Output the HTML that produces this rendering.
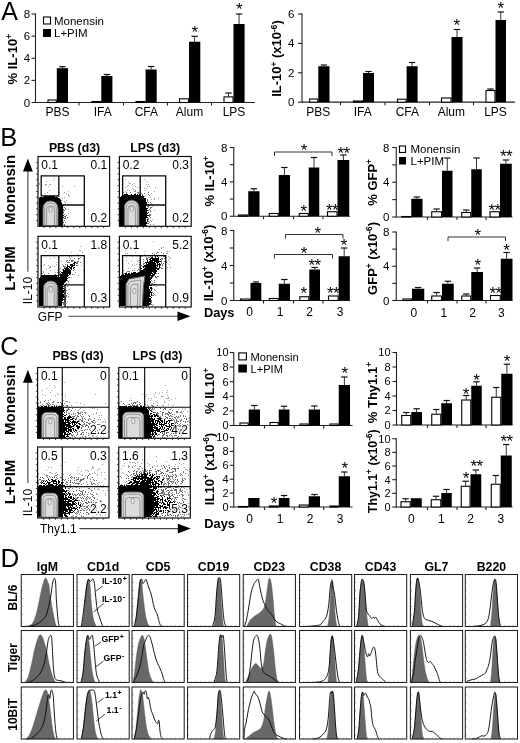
<!DOCTYPE html>
<html><head><meta charset="utf-8"><style>
html,body{margin:0;padding:0;background:#fff;}
svg{display:block;font-family:"Liberation Sans", sans-serif;filter:grayscale(1);}
</style></head><body>
<svg width="520" height="743" viewBox="0 0 520 743">
<rect width="520" height="743" fill="#fff"/>
<text x="1.3" y="20" font-size="25" fill="#000">A</text>
<text x="0.3" y="145.8" font-size="25.5" fill="#000">B</text>
<text x="0.3" y="354.8" font-size="25" fill="#000">C</text>
<text x="0.6" y="566.8" font-size="26" fill="#000">D</text>
<path d="M35.5 13.5L35.5 103" stroke="#222" stroke-width="1.1" fill="none"/>
<path d="M31.5 102.5L35.5 102.5" stroke="#222" stroke-width="1.1" fill="none"/>
<path d="M31.5 80.38L35.5 80.38" stroke="#222" stroke-width="1.1" fill="none"/>
<path d="M31.5 58.25L35.5 58.25" stroke="#222" stroke-width="1.1" fill="none"/>
<path d="M31.5 36.12L35.5 36.12" stroke="#222" stroke-width="1.1" fill="none"/>
<path d="M31.5 14L35.5 14" stroke="#222" stroke-width="1.1" fill="none"/>
<text x="30.2" y="106.57" font-size="11.5" text-anchor="end" fill="#000">0</text>
<text x="30.2" y="84.45" font-size="11.5" text-anchor="end" fill="#000">2</text>
<text x="30.2" y="62.32" font-size="11.5" text-anchor="end" fill="#000">4</text>
<text x="30.2" y="40.2" font-size="11.5" text-anchor="end" fill="#000">6</text>
<text x="30.2" y="18.07" font-size="11.5" text-anchor="end" fill="#000">8</text>
<path d="M35.5 102.5L255 102.5" stroke="#222" stroke-width="1.2" fill="none"/>
<path d="M79 102.5L79 105.5" stroke="#222" stroke-width="1.1" fill="none"/>
<path d="M123.5 102.5L123.5 105.5" stroke="#222" stroke-width="1.1" fill="none"/>
<path d="M167.5 102.5L167.5 105.5" stroke="#222" stroke-width="1.1" fill="none"/>
<path d="M211.5 102.5L211.5 105.5" stroke="#222" stroke-width="1.1" fill="none"/>
<rect x="48" y="100" width="8.3" height="2.5" fill="#fff" stroke="#000" stroke-width="1.1"/>
<path d="M62.4 68.2L62.4 66.7" stroke="#333" stroke-width="1" fill="none"/>
<path d="M59.2 66.7L65.6 66.7" stroke="#111" stroke-width="1.2" fill="none"/>
<rect x="56.8" y="68.2" width="11.2" height="34.3" fill="#000"/>
<rect x="92" y="101.5" width="8.8" height="1" fill="#fff" stroke="#000" stroke-width="1.1"/>
<path d="M106.85 76L106.85 74.5" stroke="#333" stroke-width="1" fill="none"/>
<path d="M103.65 74.5L110.05 74.5" stroke="#111" stroke-width="1.2" fill="none"/>
<rect x="101.3" y="76" width="11.1" height="26.5" fill="#000"/>
<rect x="136" y="101.5" width="9.1" height="1" fill="#fff" stroke="#000" stroke-width="1.1"/>
<path d="M151.15 69.5L151.15 66.5" stroke="#333" stroke-width="1" fill="none"/>
<path d="M147.95 66.5L154.35 66.5" stroke="#111" stroke-width="1.2" fill="none"/>
<rect x="145.6" y="69.5" width="11.1" height="33" fill="#000"/>
<rect x="179.5" y="98.8" width="9" height="3.7" fill="#fff" stroke="#000" stroke-width="1.1"/>
<path d="M194.65 41.7L194.65 36.3" stroke="#333" stroke-width="1" fill="none"/>
<path d="M191.45 36.3L197.85 36.3" stroke="#111" stroke-width="1.2" fill="none"/>
<rect x="189" y="41.7" width="11.3" height="60.8" fill="#000"/>
<path d="M228.5 96.4L228.5 93" stroke="#333" stroke-width="1" fill="none"/>
<path d="M225.3 93L231.7 93" stroke="#111" stroke-width="1.2" fill="none"/>
<rect x="224" y="96.9" width="9" height="5.6" fill="#fff" stroke="#000" stroke-width="1.1"/>
<path d="M239.05 24L239.05 14" stroke="#333" stroke-width="1" fill="none"/>
<path d="M235.85 14L242.25 14" stroke="#111" stroke-width="1.2" fill="none"/>
<rect x="233.5" y="24" width="11.1" height="78.5" fill="#000"/>
<text x="194.5" y="38.21" font-size="17" text-anchor="middle" fill="#000" letter-spacing="-0.5">*</text>
<text x="239" y="15.21" font-size="17" text-anchor="middle" fill="#000" letter-spacing="-0.5">*</text>
<text x="57.4" y="115.6" font-size="12" text-anchor="middle" fill="#000">PBS</text>
<text x="102.8" y="115.6" font-size="12" text-anchor="middle" fill="#000">IFA</text>
<text x="146.3" y="115.6" font-size="12" text-anchor="middle" fill="#000">CFA</text>
<text x="189.5" y="115.6" font-size="12" text-anchor="middle" fill="#000">Alum</text>
<text x="234" y="115.6" font-size="12" text-anchor="middle" fill="#000">LPS</text>
<text transform="translate(17 59.2) rotate(-90)" font-size="13" font-weight="bold" text-anchor="middle" fill="#000"><tspan dy="0">% IL-10</tspan><tspan dy="-4.6" font-size="8.3">+</tspan></text>
<rect x="43.5" y="17" width="7" height="7" fill="#fff" stroke="#000" stroke-width="1.1"/>
<rect x="43" y="29" width="8" height="8" fill="#000"/>
<text x="54" y="24.5" font-size="11.5" fill="#000">Monensin</text>
<text x="54" y="37" font-size="11.5" fill="#000">L+PIM</text>
<path d="M302 13.5L302 102.7" stroke="#222" stroke-width="1.1" fill="none"/>
<path d="M298 102.2L302 102.2" stroke="#222" stroke-width="1.1" fill="none"/>
<path d="M298 72.8L302 72.8" stroke="#222" stroke-width="1.1" fill="none"/>
<path d="M298 43.4L302 43.4" stroke="#222" stroke-width="1.1" fill="none"/>
<path d="M298 14L302 14" stroke="#222" stroke-width="1.1" fill="none"/>
<text x="294.3" y="106.27" font-size="11.5" text-anchor="end" fill="#000">0</text>
<text x="294.3" y="76.87" font-size="11.5" text-anchor="end" fill="#000">2</text>
<text x="294.3" y="47.47" font-size="11.5" text-anchor="end" fill="#000">4</text>
<text x="294.3" y="18.07" font-size="11.5" text-anchor="end" fill="#000">6</text>
<path d="M302 102.2L515 102.2" stroke="#222" stroke-width="1.2" fill="none"/>
<path d="M340.5 102.2L340.5 105.2" stroke="#222" stroke-width="1.1" fill="none"/>
<path d="M385 102.2L385 105.2" stroke="#222" stroke-width="1.1" fill="none"/>
<path d="M429.5 102.2L429.5 105.2" stroke="#222" stroke-width="1.1" fill="none"/>
<path d="M473.5 102.2L473.5 105.2" stroke="#222" stroke-width="1.1" fill="none"/>
<rect x="309.7" y="99" width="8.1" height="3.2" fill="#fff" stroke="#000" stroke-width="1.1"/>
<path d="M323.9 66.25L323.9 65" stroke="#333" stroke-width="1" fill="none"/>
<path d="M320.7 65L327.1 65" stroke="#111" stroke-width="1.2" fill="none"/>
<rect x="318.3" y="66.25" width="11.2" height="35.95" fill="#000"/>
<rect x="353.5" y="101" width="9" height="1.2" fill="#fff" stroke="#000" stroke-width="1.1"/>
<path d="M368.5 73L368.5 71.5" stroke="#333" stroke-width="1" fill="none"/>
<path d="M365.3 71.5L371.7 71.5" stroke="#111" stroke-width="1.2" fill="none"/>
<rect x="363" y="73" width="11" height="29.2" fill="#000"/>
<rect x="397.5" y="99.25" width="8.6" height="2.95" fill="#fff" stroke="#000" stroke-width="1.1"/>
<path d="M412.1 66.25L412.1 62.5" stroke="#333" stroke-width="1" fill="none"/>
<path d="M408.9 62.5L415.3 62.5" stroke="#111" stroke-width="1.2" fill="none"/>
<rect x="406.6" y="66.25" width="11" height="35.95" fill="#000"/>
<rect x="441.5" y="98" width="9.5" height="4.2" fill="#fff" stroke="#000" stroke-width="1.1"/>
<path d="M457 37L457 29.5" stroke="#333" stroke-width="1" fill="none"/>
<path d="M453.8 29.5L460.2 29.5" stroke="#111" stroke-width="1.2" fill="none"/>
<rect x="451.5" y="37" width="11" height="65.2" fill="#000"/>
<path d="M490.5 90L490.5 89" stroke="#333" stroke-width="1" fill="none"/>
<path d="M487.3 89L493.7 89" stroke="#111" stroke-width="1.2" fill="none"/>
<rect x="486" y="90.5" width="9" height="11.7" fill="#fff" stroke="#000" stroke-width="1.1"/>
<path d="M500.75 20L500.75 12" stroke="#333" stroke-width="1" fill="none"/>
<path d="M497.55 12L503.95 12" stroke="#111" stroke-width="1.2" fill="none"/>
<rect x="495.5" y="20" width="10.5" height="82.2" fill="#000"/>
<text x="456.5" y="31.21" font-size="17" text-anchor="middle" fill="#000" letter-spacing="-0.5">*</text>
<text x="500.5" y="14.21" font-size="17" text-anchor="middle" fill="#000" letter-spacing="-0.5">*</text>
<text x="318.3" y="115.5" font-size="12" text-anchor="middle" fill="#000">PBS</text>
<text x="362.8" y="115.5" font-size="12" text-anchor="middle" fill="#000">IFA</text>
<text x="407.3" y="115.5" font-size="12" text-anchor="middle" fill="#000">CFA</text>
<text x="451.3" y="115.5" font-size="12" text-anchor="middle" fill="#000">Alum</text>
<text x="495.5" y="115.5" font-size="12" text-anchor="middle" fill="#000">LPS</text>
<text transform="translate(281.1 58.5) rotate(-90)" font-size="13" font-weight="bold" text-anchor="middle" fill="#000"><tspan dy="0">IL-10</tspan><tspan dy="-4.6" font-size="8.3">+</tspan><tspan dy="4.6"> (x10</tspan><tspan dy="-4.6" font-size="8.3">-6</tspan><tspan dy="4.6">)</tspan></text>
<path d="M233.75 147L233.75 216.75" stroke="#222" stroke-width="1.1" fill="none"/>
<path d="M229.75 216.25L233.75 216.25" stroke="#222" stroke-width="1.1" fill="none"/>
<path d="M229.75 199.06L233.75 199.06" stroke="#222" stroke-width="1.1" fill="none"/>
<path d="M229.75 181.88L233.75 181.88" stroke="#222" stroke-width="1.1" fill="none"/>
<path d="M229.75 164.69L233.75 164.69" stroke="#222" stroke-width="1.1" fill="none"/>
<path d="M229.75 147.5L233.75 147.5" stroke="#222" stroke-width="1.1" fill="none"/>
<text x="227.3" y="220.32" font-size="11.5" text-anchor="end" fill="#000">0</text>
<text x="227.3" y="185.95" font-size="11.5" text-anchor="end" fill="#000">4</text>
<text x="227.3" y="151.57" font-size="11.5" text-anchor="end" fill="#000">8</text>
<path d="M233.75 216.25L350 216.25" stroke="#222" stroke-width="1.2" fill="none"/>
<path d="M263.5 216.25L263.5 219.25" stroke="#222" stroke-width="1.1" fill="none"/>
<path d="M293.5 216.25L293.5 219.25" stroke="#222" stroke-width="1.1" fill="none"/>
<path d="M323 216.25L323 219.25" stroke="#222" stroke-width="1.1" fill="none"/>
<rect x="238.5" y="215" width="9.25" height="1.25" fill="#fff" stroke="#000" stroke-width="1.1"/>
<path d="M253.88 191.25L253.88 188.75" stroke="#333" stroke-width="1" fill="none"/>
<path d="M250.68 188.75L257.07 188.75" stroke="#111" stroke-width="1.2" fill="none"/>
<rect x="248.25" y="191.25" width="11.25" height="25" fill="#000"/>
<rect x="269.25" y="213.5" width="9" height="2.75" fill="#fff" stroke="#000" stroke-width="1.1"/>
<path d="M284.38 175L284.38 167.5" stroke="#333" stroke-width="1" fill="none"/>
<path d="M281.18 167.5L287.57 167.5" stroke="#111" stroke-width="1.2" fill="none"/>
<rect x="278.75" y="175" width="11.25" height="41.25" fill="#000"/>
<rect x="299.25" y="213.5" width="9" height="2.75" fill="#fff" stroke="#000" stroke-width="1.1"/>
<path d="M314 167.5L314 157.5" stroke="#333" stroke-width="1" fill="none"/>
<path d="M310.8 157.5L317.2 157.5" stroke="#111" stroke-width="1.2" fill="none"/>
<rect x="308.75" y="167.5" width="10.5" height="48.75" fill="#000"/>
<rect x="327.5" y="211.75" width="9.5" height="4.5" fill="#fff" stroke="#000" stroke-width="1.1"/>
<path d="M343.38 160L343.38 155" stroke="#333" stroke-width="1" fill="none"/>
<path d="M340.18 155L346.57 155" stroke="#111" stroke-width="1.2" fill="none"/>
<rect x="337.5" y="160" width="11.75" height="56.25" fill="#000"/>
<text x="303.5" y="216.71" font-size="17" text-anchor="middle" fill="#000" letter-spacing="-0.5">*</text>
<text x="332" y="215.71" font-size="17" text-anchor="middle" fill="#000" letter-spacing="-0.5">**</text>
<text x="343.5" y="158.71" font-size="17" text-anchor="middle" fill="#000" letter-spacing="-0.5">**</text>
<path d="M274.5 156V152H332V156" stroke="#333" stroke-width="1" fill="none"/>
<text x="303.75" y="155.71" font-size="17" text-anchor="middle" fill="#000" letter-spacing="-0.5">*</text>
<text transform="translate(213.5 181.2) rotate(-90)" font-size="13" font-weight="bold" text-anchor="middle" fill="#000"><tspan dy="0">% IL-10</tspan><tspan dy="-4.6" font-size="8.3">+</tspan></text>
<path d="M396.25 147L396.25 217.5" stroke="#222" stroke-width="1.1" fill="none"/>
<path d="M392.25 217L396.25 217" stroke="#222" stroke-width="1.1" fill="none"/>
<path d="M392.25 199.62L396.25 199.62" stroke="#222" stroke-width="1.1" fill="none"/>
<path d="M392.25 182.25L396.25 182.25" stroke="#222" stroke-width="1.1" fill="none"/>
<path d="M392.25 164.88L396.25 164.88" stroke="#222" stroke-width="1.1" fill="none"/>
<path d="M392.25 147.5L396.25 147.5" stroke="#222" stroke-width="1.1" fill="none"/>
<text x="389.5" y="221.07" font-size="11.5" text-anchor="end" fill="#000">0</text>
<text x="389.5" y="186.32" font-size="11.5" text-anchor="end" fill="#000">4</text>
<text x="389.5" y="151.57" font-size="11.5" text-anchor="end" fill="#000">8</text>
<path d="M396.25 217L512.5 217" stroke="#222" stroke-width="1.2" fill="none"/>
<path d="M427.5 217L427.5 220" stroke="#222" stroke-width="1.1" fill="none"/>
<path d="M457 217L457 220" stroke="#222" stroke-width="1.1" fill="none"/>
<path d="M486 217L486 220" stroke="#222" stroke-width="1.1" fill="none"/>
<rect x="401.75" y="216.5" width="9" height="0.5" fill="#fff" stroke="#000" stroke-width="1.1"/>
<path d="M416.88 198.75L416.88 197" stroke="#333" stroke-width="1" fill="none"/>
<path d="M413.68 197L420.07 197" stroke="#111" stroke-width="1.2" fill="none"/>
<rect x="411.25" y="198.75" width="11.25" height="18.25" fill="#000"/>
<path d="M436.62 211.25L436.62 209" stroke="#333" stroke-width="1" fill="none"/>
<path d="M433.43 209L439.82 209" stroke="#111" stroke-width="1.2" fill="none"/>
<rect x="431.75" y="211.75" width="9.75" height="5.25" fill="#fff" stroke="#000" stroke-width="1.1"/>
<path d="M447.25 170.75L447.25 158" stroke="#333" stroke-width="1" fill="none"/>
<path d="M444.05 158L450.45 158" stroke="#111" stroke-width="1.2" fill="none"/>
<rect x="442" y="170.75" width="10.5" height="46.25" fill="#000"/>
<path d="M466.25 212L466.25 210" stroke="#333" stroke-width="1" fill="none"/>
<path d="M463.05 210L469.45 210" stroke="#111" stroke-width="1.2" fill="none"/>
<rect x="461.75" y="212.5" width="9" height="4.5" fill="#fff" stroke="#000" stroke-width="1.1"/>
<path d="M476.5 169.25L476.5 158" stroke="#333" stroke-width="1" fill="none"/>
<path d="M473.3 158L479.7 158" stroke="#111" stroke-width="1.2" fill="none"/>
<rect x="471.25" y="169.25" width="10.5" height="47.75" fill="#000"/>
<rect x="490" y="211.75" width="9.5" height="5.25" fill="#fff" stroke="#000" stroke-width="1.1"/>
<path d="M505.88 163.75L505.88 160" stroke="#333" stroke-width="1" fill="none"/>
<path d="M502.68 160L509.07 160" stroke="#111" stroke-width="1.2" fill="none"/>
<rect x="500" y="163.75" width="11.75" height="53.25" fill="#000"/>
<text x="494.5" y="216.21" font-size="17" text-anchor="middle" fill="#000" letter-spacing="-0.5">**</text>
<text x="506" y="162.46" font-size="17" text-anchor="middle" fill="#000" letter-spacing="-0.5">**</text>
<text transform="translate(377 182.4) rotate(-90)" font-size="13" font-weight="bold" text-anchor="middle" fill="#000"><tspan dy="0">% GFP</tspan><tspan dy="-4.6" font-size="8.3">+</tspan></text>
<rect x="399.5" y="146" width="6" height="6.5" fill="#fff" stroke="#000" stroke-width="1.1"/>
<rect x="399" y="157" width="7" height="7.5" fill="#000"/>
<text x="410.5" y="153.3" font-size="11.5" fill="#000">Monensin</text>
<text x="410.5" y="164.8" font-size="11.5" fill="#000">L+PIM</text>
<path d="M233.75 230L233.75 301" stroke="#222" stroke-width="1.1" fill="none"/>
<path d="M229.75 300.5L233.75 300.5" stroke="#222" stroke-width="1.1" fill="none"/>
<path d="M229.75 283L233.75 283" stroke="#222" stroke-width="1.1" fill="none"/>
<path d="M229.75 265.5L233.75 265.5" stroke="#222" stroke-width="1.1" fill="none"/>
<path d="M229.75 248L233.75 248" stroke="#222" stroke-width="1.1" fill="none"/>
<path d="M229.75 230.5L233.75 230.5" stroke="#222" stroke-width="1.1" fill="none"/>
<text x="227.3" y="304.57" font-size="11.5" text-anchor="end" fill="#000">0</text>
<text x="227.3" y="269.57" font-size="11.5" text-anchor="end" fill="#000">4</text>
<text x="227.3" y="234.57" font-size="11.5" text-anchor="end" fill="#000">8</text>
<path d="M233.75 300.5L350 300.5" stroke="#222" stroke-width="1.2" fill="none"/>
<path d="M263.5 300.5L263.5 303.5" stroke="#222" stroke-width="1.1" fill="none"/>
<path d="M293.5 300.5L293.5 303.5" stroke="#222" stroke-width="1.1" fill="none"/>
<path d="M323 300.5L323 303.5" stroke="#222" stroke-width="1.1" fill="none"/>
<rect x="240.5" y="299" width="9.5" height="1.5" fill="#fff" stroke="#000" stroke-width="1.1"/>
<path d="M255.9 283L255.9 282" stroke="#333" stroke-width="1" fill="none"/>
<path d="M252.7 282L259.1 282" stroke="#111" stroke-width="1.2" fill="none"/>
<rect x="250.5" y="283" width="10.8" height="17.5" fill="#000"/>
<rect x="269.25" y="298.5" width="9" height="2" fill="#fff" stroke="#000" stroke-width="1.1"/>
<path d="M284.38 283.75L284.38 279.5" stroke="#333" stroke-width="1" fill="none"/>
<path d="M281.18 279.5L287.57 279.5" stroke="#111" stroke-width="1.2" fill="none"/>
<rect x="278.75" y="283.75" width="11.25" height="16.75" fill="#000"/>
<rect x="299.8" y="296.75" width="9" height="3.75" fill="#fff" stroke="#000" stroke-width="1.1"/>
<path d="M314.65 269.5L314.65 267.5" stroke="#333" stroke-width="1" fill="none"/>
<path d="M311.45 267.5L317.85 267.5" stroke="#111" stroke-width="1.2" fill="none"/>
<rect x="309.3" y="269.5" width="10.7" height="31" fill="#000"/>
<rect x="328.5" y="296" width="9.6" height="4.5" fill="#fff" stroke="#000" stroke-width="1.1"/>
<path d="M344.2 256.25L344.2 248" stroke="#333" stroke-width="1" fill="none"/>
<path d="M341 248L347.4 248" stroke="#111" stroke-width="1.2" fill="none"/>
<rect x="338.6" y="256.25" width="11.2" height="44.25" fill="#000"/>
<text x="303.5" y="298.71" font-size="17" text-anchor="middle" fill="#000" letter-spacing="-0.5">*</text>
<text x="314.5" y="271.21" font-size="17" text-anchor="middle" fill="#000" letter-spacing="-0.5">**</text>
<text x="333" y="298.71" font-size="17" text-anchor="middle" fill="#000" letter-spacing="-0.5">**</text>
<text x="343.75" y="250.71" font-size="17" text-anchor="middle" fill="#000" letter-spacing="-0.5">*</text>
<path d="M285.5 238.5V234.5H343V238.5" stroke="#333" stroke-width="1" fill="none"/>
<text x="317.5" y="238.71" font-size="17" text-anchor="middle" fill="#000" letter-spacing="-0.5">*</text>
<path d="M274.5 258.5V254.5H332.5V258.5" stroke="#333" stroke-width="1" fill="none"/>
<text x="303.75" y="258.71" font-size="17" text-anchor="middle" fill="#000" letter-spacing="-0.5">*</text>
<text transform="translate(213 263) rotate(-90)" font-size="13" font-weight="bold" text-anchor="middle" fill="#000"><tspan dy="0">IL-10</tspan><tspan dy="-4.6" font-size="8.3">+</tspan><tspan dy="4.6"> (x10</tspan><tspan dy="-4.6" font-size="8.3">-6</tspan><tspan dy="4.6">)</tspan></text>
<text x="203.9" y="316.8" font-size="12.8" font-weight="bold" fill="#000">Days</text>
<text x="249.5" y="316" font-size="12" text-anchor="middle" fill="#000">0</text>
<text x="280" y="316" font-size="12" text-anchor="middle" fill="#000">1</text>
<text x="309.5" y="316" font-size="12" text-anchor="middle" fill="#000">2</text>
<text x="340" y="316" font-size="12" text-anchor="middle" fill="#000">3</text>
<path d="M396.25 231.5L396.25 301" stroke="#222" stroke-width="1.1" fill="none"/>
<path d="M392.25 300.5L396.25 300.5" stroke="#222" stroke-width="1.1" fill="none"/>
<path d="M392.25 283.38L396.25 283.38" stroke="#222" stroke-width="1.1" fill="none"/>
<path d="M392.25 266.25L396.25 266.25" stroke="#222" stroke-width="1.1" fill="none"/>
<path d="M392.25 249.12L396.25 249.12" stroke="#222" stroke-width="1.1" fill="none"/>
<path d="M392.25 232L396.25 232" stroke="#222" stroke-width="1.1" fill="none"/>
<text x="389.5" y="304.57" font-size="11.5" text-anchor="end" fill="#000">0</text>
<text x="389.5" y="270.32" font-size="11.5" text-anchor="end" fill="#000">4</text>
<text x="389.5" y="236.07" font-size="11.5" text-anchor="end" fill="#000">8</text>
<path d="M396.25 300.5L512.5 300.5" stroke="#222" stroke-width="1.2" fill="none"/>
<path d="M427.5 300.5L427.5 303.5" stroke="#222" stroke-width="1.1" fill="none"/>
<path d="M457 300.5L457 303.5" stroke="#222" stroke-width="1.1" fill="none"/>
<path d="M486 300.5L486 303.5" stroke="#222" stroke-width="1.1" fill="none"/>
<rect x="403" y="299" width="8.5" height="1.5" fill="#fff" stroke="#000" stroke-width="1.1"/>
<path d="M418.12 288.75L418.12 287.5" stroke="#333" stroke-width="1" fill="none"/>
<path d="M414.93 287.5L421.32 287.5" stroke="#111" stroke-width="1.2" fill="none"/>
<rect x="412" y="288.75" width="12.25" height="11.75" fill="#000"/>
<path d="M436.62 295.5L436.62 292.5" stroke="#333" stroke-width="1" fill="none"/>
<path d="M433.43 292.5L439.82 292.5" stroke="#111" stroke-width="1.2" fill="none"/>
<rect x="431.75" y="296" width="9.75" height="4.5" fill="#fff" stroke="#000" stroke-width="1.1"/>
<path d="M447.88 283.75L447.88 281.25" stroke="#333" stroke-width="1" fill="none"/>
<path d="M444.68 281.25L451.07 281.25" stroke="#111" stroke-width="1.2" fill="none"/>
<rect x="442" y="283.75" width="11.75" height="16.75" fill="#000"/>
<path d="M466.25 295.5L466.25 294" stroke="#333" stroke-width="1" fill="none"/>
<path d="M463.05 294L469.45 294" stroke="#111" stroke-width="1.2" fill="none"/>
<rect x="461.75" y="296" width="9" height="4.5" fill="#fff" stroke="#000" stroke-width="1.1"/>
<path d="M477.12 272L477.12 268" stroke="#333" stroke-width="1" fill="none"/>
<path d="M473.93 268L480.32 268" stroke="#111" stroke-width="1.2" fill="none"/>
<rect x="471.25" y="272" width="11.75" height="28.5" fill="#000"/>
<rect x="490.5" y="295.5" width="9.75" height="5" fill="#fff" stroke="#000" stroke-width="1.1"/>
<path d="M506.62 258.75L506.62 252.5" stroke="#333" stroke-width="1" fill="none"/>
<path d="M503.43 252.5L509.82 252.5" stroke="#111" stroke-width="1.2" fill="none"/>
<rect x="500.75" y="258.75" width="11.75" height="41.75" fill="#000"/>
<text x="477.5" y="271.21" font-size="17" text-anchor="middle" fill="#000" letter-spacing="-0.5">*</text>
<text x="495.5" y="298.71" font-size="17" text-anchor="middle" fill="#000" letter-spacing="-0.5">**</text>
<text x="506.25" y="255.71" font-size="17" text-anchor="middle" fill="#000" letter-spacing="-0.5">*</text>
<path d="M448 241V237H505.5V241" stroke="#333" stroke-width="1" fill="none"/>
<text x="477.5" y="240.71" font-size="17" text-anchor="middle" fill="#000" letter-spacing="-0.5">*</text>
<text transform="translate(377 258.4) rotate(-90)" font-size="13" font-weight="bold" text-anchor="middle" fill="#000"><tspan dy="0">GFP</tspan><tspan dy="-4.6" font-size="8.3">+</tspan><tspan dy="4.6"> (x10</tspan><tspan dy="-4.6" font-size="8.3">-6</tspan><tspan dy="4.6">)</tspan></text>
<text x="413.75" y="316.5" font-size="12" text-anchor="middle" fill="#000">0</text>
<text x="443.75" y="316.5" font-size="12" text-anchor="middle" fill="#000">1</text>
<text x="472.5" y="316.5" font-size="12" text-anchor="middle" fill="#000">2</text>
<text x="501.25" y="316.5" font-size="12" text-anchor="middle" fill="#000">3</text>
<path d="M233.75 352L233.75 426" stroke="#222" stroke-width="1.1" fill="none"/>
<path d="M229.75 425.5L233.75 425.5" stroke="#222" stroke-width="1.1" fill="none"/>
<path d="M229.75 410.9L233.75 410.9" stroke="#222" stroke-width="1.1" fill="none"/>
<path d="M229.75 396.3L233.75 396.3" stroke="#222" stroke-width="1.1" fill="none"/>
<path d="M229.75 381.7L233.75 381.7" stroke="#222" stroke-width="1.1" fill="none"/>
<path d="M229.75 367.1L233.75 367.1" stroke="#222" stroke-width="1.1" fill="none"/>
<path d="M229.75 352.5L233.75 352.5" stroke="#222" stroke-width="1.1" fill="none"/>
<text x="228.6" y="429.39" font-size="11" text-anchor="end" fill="#000">0</text>
<text x="228.6" y="414.79" font-size="11" text-anchor="end" fill="#000">2</text>
<text x="228.6" y="400.19" font-size="11" text-anchor="end" fill="#000">4</text>
<text x="228.6" y="385.59" font-size="11" text-anchor="end" fill="#000">6</text>
<text x="228.6" y="370.99" font-size="11" text-anchor="end" fill="#000">8</text>
<text x="228.6" y="356.39" font-size="11" text-anchor="end" fill="#000">10</text>
<path d="M233.75 425.5L352.5 425.5" stroke="#222" stroke-width="1.2" fill="none"/>
<path d="M264.5 425.5L264.5 428.5" stroke="#222" stroke-width="1.1" fill="none"/>
<path d="M294.25 425.5L294.25 428.5" stroke="#222" stroke-width="1.1" fill="none"/>
<path d="M323.75 425.5L323.75 428.5" stroke="#222" stroke-width="1.1" fill="none"/>
<rect x="240" y="423" width="8.25" height="2.5" fill="#fff" stroke="#000" stroke-width="1.1"/>
<path d="M254.38 409.5L254.38 405.5" stroke="#333" stroke-width="1" fill="none"/>
<path d="M251.18 405.5L257.57 405.5" stroke="#111" stroke-width="1.2" fill="none"/>
<rect x="248.75" y="409.5" width="11.25" height="16" fill="#000"/>
<rect x="270" y="422.5" width="8.25" height="3" fill="#fff" stroke="#000" stroke-width="1.1"/>
<path d="M284.12 409.5L284.12 406.25" stroke="#333" stroke-width="1" fill="none"/>
<path d="M280.93 406.25L287.32 406.25" stroke="#111" stroke-width="1.2" fill="none"/>
<rect x="278.75" y="409.5" width="10.75" height="16" fill="#000"/>
<rect x="300" y="424" width="8.25" height="1.5" fill="#fff" stroke="#000" stroke-width="1.1"/>
<path d="M314.38 409.5L314.38 406" stroke="#333" stroke-width="1" fill="none"/>
<path d="M311.18 406L317.57 406" stroke="#111" stroke-width="1.2" fill="none"/>
<rect x="308.75" y="409.5" width="11.25" height="16" fill="#000"/>
<rect x="330" y="424" width="8.25" height="1.5" fill="#fff" stroke="#000" stroke-width="1.1"/>
<path d="M344.38 385L344.38 377" stroke="#333" stroke-width="1" fill="none"/>
<path d="M341.18 377L347.57 377" stroke="#111" stroke-width="1.2" fill="none"/>
<rect x="338.75" y="385" width="11.25" height="40.5" fill="#000"/>
<text x="344.5" y="378.71" font-size="17" text-anchor="middle" fill="#000" letter-spacing="-0.5">*</text>
<text transform="translate(213.5 390.9) rotate(-90)" font-size="13" font-weight="bold" text-anchor="middle" fill="#000"><tspan dy="0">% IL10</tspan><tspan dy="-4.6" font-size="8.3">+</tspan></text>
<rect x="238.8" y="352.9" width="7.6" height="7" fill="#fff" stroke="#000" stroke-width="1.1"/>
<rect x="238.3" y="364.5" width="8.6" height="8" fill="#000"/>
<text x="250.5" y="360.8" font-size="11.1" fill="#000">Monensin</text>
<text x="250.5" y="372.8" font-size="11.1" fill="#000">L+PIM</text>
<path d="M396.5 352L396.5 425.5" stroke="#222" stroke-width="1.1" fill="none"/>
<path d="M392.5 425L396.5 425" stroke="#222" stroke-width="1.1" fill="none"/>
<path d="M392.5 410.5L396.5 410.5" stroke="#222" stroke-width="1.1" fill="none"/>
<path d="M392.5 396L396.5 396" stroke="#222" stroke-width="1.1" fill="none"/>
<path d="M392.5 381.5L396.5 381.5" stroke="#222" stroke-width="1.1" fill="none"/>
<path d="M392.5 367L396.5 367" stroke="#222" stroke-width="1.1" fill="none"/>
<path d="M392.5 352.5L396.5 352.5" stroke="#222" stroke-width="1.1" fill="none"/>
<text x="390.6" y="428.89" font-size="11" text-anchor="end" fill="#000">0</text>
<text x="390.6" y="414.39" font-size="11" text-anchor="end" fill="#000">2</text>
<text x="390.6" y="399.89" font-size="11" text-anchor="end" fill="#000">4</text>
<text x="390.6" y="385.39" font-size="11" text-anchor="end" fill="#000">6</text>
<text x="390.6" y="370.89" font-size="11" text-anchor="end" fill="#000">8</text>
<text x="390.6" y="356.39" font-size="11" text-anchor="end" fill="#000">10</text>
<path d="M396.5 425L512.5 425" stroke="#222" stroke-width="1.2" fill="none"/>
<path d="M427.5 425L427.5 428" stroke="#222" stroke-width="1.1" fill="none"/>
<path d="M457 425L457 428" stroke="#222" stroke-width="1.1" fill="none"/>
<path d="M486 425L486 428" stroke="#222" stroke-width="1.1" fill="none"/>
<path d="M406.25 415L406.25 412.5" stroke="#333" stroke-width="1" fill="none"/>
<path d="M403.05 412.5L409.45 412.5" stroke="#111" stroke-width="1.2" fill="none"/>
<rect x="401.75" y="415.5" width="9" height="9.5" fill="#fff" stroke="#000" stroke-width="1.1"/>
<path d="M416.62 412L416.62 408.75" stroke="#333" stroke-width="1" fill="none"/>
<path d="M413.43 408.75L419.82 408.75" stroke="#111" stroke-width="1.2" fill="none"/>
<rect x="411.25" y="412" width="10.75" height="13" fill="#000"/>
<path d="M436.25 413.75L436.25 409.5" stroke="#333" stroke-width="1" fill="none"/>
<path d="M433.05 409.5L439.45 409.5" stroke="#111" stroke-width="1.2" fill="none"/>
<rect x="431.75" y="414.25" width="9" height="10.75" fill="#fff" stroke="#000" stroke-width="1.1"/>
<path d="M446.62 403.25L446.62 400.5" stroke="#333" stroke-width="1" fill="none"/>
<path d="M443.43 400.5L449.82 400.5" stroke="#111" stroke-width="1.2" fill="none"/>
<rect x="441.25" y="403.25" width="10.75" height="21.75" fill="#000"/>
<path d="M466.25 399.5L466.25 395.5" stroke="#333" stroke-width="1" fill="none"/>
<path d="M463.05 395.5L469.45 395.5" stroke="#111" stroke-width="1.2" fill="none"/>
<rect x="461.75" y="400" width="9" height="25" fill="#fff" stroke="#000" stroke-width="1.1"/>
<path d="M476.5 385.75L476.5 381.75" stroke="#333" stroke-width="1" fill="none"/>
<path d="M473.3 381.75L479.7 381.75" stroke="#111" stroke-width="1.2" fill="none"/>
<rect x="471.25" y="385.75" width="10.5" height="39.25" fill="#000"/>
<path d="M496.25 396.75L496.25 387.5" stroke="#333" stroke-width="1" fill="none"/>
<path d="M493.05 387.5L499.45 387.5" stroke="#111" stroke-width="1.2" fill="none"/>
<rect x="491.75" y="397.25" width="9" height="27.75" fill="#fff" stroke="#000" stroke-width="1.1"/>
<path d="M506.88 373.75L506.88 364.25" stroke="#333" stroke-width="1" fill="none"/>
<path d="M503.68 364.25L510.07 364.25" stroke="#111" stroke-width="1.2" fill="none"/>
<rect x="501.25" y="373.75" width="11.25" height="51.25" fill="#000"/>
<text x="465.75" y="399.96" font-size="17" text-anchor="middle" fill="#000" letter-spacing="-0.5">*</text>
<text x="476.25" y="385.71" font-size="17" text-anchor="middle" fill="#000" letter-spacing="-0.5">*</text>
<text x="506.75" y="367.46" font-size="17" text-anchor="middle" fill="#000" letter-spacing="-0.5">*</text>
<text transform="translate(376.8 392.6) rotate(-90)" font-size="13" font-weight="bold" text-anchor="middle" fill="#000"><tspan dy="0">% Thy1.1</tspan><tspan dy="-4.6" font-size="8.3">+</tspan></text>
<path d="M233.75 437L233.75 507.5" stroke="#222" stroke-width="1.1" fill="none"/>
<path d="M229.75 507L233.75 507" stroke="#222" stroke-width="1.1" fill="none"/>
<path d="M229.75 493.1L233.75 493.1" stroke="#222" stroke-width="1.1" fill="none"/>
<path d="M229.75 479.2L233.75 479.2" stroke="#222" stroke-width="1.1" fill="none"/>
<path d="M229.75 465.3L233.75 465.3" stroke="#222" stroke-width="1.1" fill="none"/>
<path d="M229.75 451.4L233.75 451.4" stroke="#222" stroke-width="1.1" fill="none"/>
<path d="M229.75 437.5L233.75 437.5" stroke="#222" stroke-width="1.1" fill="none"/>
<text x="228.6" y="510.89" font-size="11" text-anchor="end" fill="#000">0</text>
<text x="228.6" y="496.99" font-size="11" text-anchor="end" fill="#000">2</text>
<text x="228.6" y="483.09" font-size="11" text-anchor="end" fill="#000">4</text>
<text x="228.6" y="469.19" font-size="11" text-anchor="end" fill="#000">6</text>
<text x="228.6" y="455.29" font-size="11" text-anchor="end" fill="#000">8</text>
<text x="228.6" y="441.39" font-size="11" text-anchor="end" fill="#000">10</text>
<path d="M233.75 507L352.5 507" stroke="#222" stroke-width="1.2" fill="none"/>
<path d="M264.5 507L264.5 510" stroke="#222" stroke-width="1.1" fill="none"/>
<path d="M294.25 507L294.25 510" stroke="#222" stroke-width="1.1" fill="none"/>
<path d="M323.75 507L323.75 510" stroke="#222" stroke-width="1.1" fill="none"/>
<rect x="238.5" y="506.5" width="9.25" height="0.5" fill="#fff" stroke="#000" stroke-width="1.1"/>
<rect x="248.25" y="498" width="11.25" height="9" fill="#000"/>
<rect x="269.25" y="506" width="9" height="1" fill="#fff" stroke="#000" stroke-width="1.1"/>
<path d="M284.12 498L284.12 495.5" stroke="#333" stroke-width="1" fill="none"/>
<path d="M280.93 495.5L287.32 495.5" stroke="#111" stroke-width="1.2" fill="none"/>
<rect x="278.75" y="498" width="10.75" height="9" fill="#000"/>
<rect x="299.25" y="505" width="9" height="2" fill="#fff" stroke="#000" stroke-width="1.1"/>
<path d="M314.38 496.25L314.38 494.5" stroke="#333" stroke-width="1" fill="none"/>
<path d="M311.18 494.5L317.57 494.5" stroke="#111" stroke-width="1.2" fill="none"/>
<rect x="308.75" y="496.25" width="11.25" height="10.75" fill="#000"/>
<rect x="330" y="506" width="8.25" height="1" fill="#fff" stroke="#000" stroke-width="1.1"/>
<path d="M344.38 476.25L344.38 472" stroke="#333" stroke-width="1" fill="none"/>
<path d="M341.18 472L347.57 472" stroke="#111" stroke-width="1.2" fill="none"/>
<rect x="338.75" y="476.25" width="11.25" height="30.75" fill="#000"/>
<text x="273.75" y="508.71" font-size="17" text-anchor="middle" fill="#000" letter-spacing="-0.5">*</text>
<text x="344.5" y="473.71" font-size="17" text-anchor="middle" fill="#000" letter-spacing="-0.5">*</text>
<text transform="translate(213.5 469) rotate(-90)" font-size="13" font-weight="bold" text-anchor="middle" fill="#000"><tspan dy="0">IL10</tspan><tspan dy="-4.6" font-size="8.3">+</tspan><tspan dy="4.6"> (x10</tspan><tspan dy="-4.6" font-size="8.3">-6</tspan><tspan dy="4.6">)</tspan></text>
<text x="204.3" y="528.4" font-size="12.8" font-weight="bold" fill="#000">Days</text>
<text x="249.5" y="522.5" font-size="12" text-anchor="middle" fill="#000">0</text>
<text x="280" y="522.5" font-size="12" text-anchor="middle" fill="#000">1</text>
<text x="310" y="522.5" font-size="12" text-anchor="middle" fill="#000">2</text>
<text x="340" y="522.5" font-size="12" text-anchor="middle" fill="#000">3</text>
<path d="M396.25 438.25L396.25 507.5" stroke="#222" stroke-width="1.1" fill="none"/>
<path d="M392.25 507L396.25 507" stroke="#222" stroke-width="1.1" fill="none"/>
<path d="M392.25 493.35L396.25 493.35" stroke="#222" stroke-width="1.1" fill="none"/>
<path d="M392.25 479.7L396.25 479.7" stroke="#222" stroke-width="1.1" fill="none"/>
<path d="M392.25 466.05L396.25 466.05" stroke="#222" stroke-width="1.1" fill="none"/>
<path d="M392.25 452.4L396.25 452.4" stroke="#222" stroke-width="1.1" fill="none"/>
<path d="M392.25 438.75L396.25 438.75" stroke="#222" stroke-width="1.1" fill="none"/>
<text x="390.6" y="510.89" font-size="11" text-anchor="end" fill="#000">0</text>
<text x="390.6" y="497.24" font-size="11" text-anchor="end" fill="#000">2</text>
<text x="390.6" y="483.59" font-size="11" text-anchor="end" fill="#000">4</text>
<text x="390.6" y="469.94" font-size="11" text-anchor="end" fill="#000">6</text>
<text x="390.6" y="456.29" font-size="11" text-anchor="end" fill="#000">8</text>
<text x="390.6" y="442.64" font-size="11" text-anchor="end" fill="#000">10</text>
<path d="M396.25 507L512.5 507" stroke="#222" stroke-width="1.2" fill="none"/>
<path d="M427.5 507L427.5 510" stroke="#222" stroke-width="1.1" fill="none"/>
<path d="M457 507L457 510" stroke="#222" stroke-width="1.1" fill="none"/>
<path d="M486 507L486 510" stroke="#222" stroke-width="1.1" fill="none"/>
<path d="M405.62 501.25L405.62 498.75" stroke="#333" stroke-width="1" fill="none"/>
<path d="M402.43 498.75L408.82 498.75" stroke="#111" stroke-width="1.2" fill="none"/>
<rect x="401" y="501.75" width="9.25" height="5.25" fill="#fff" stroke="#000" stroke-width="1.1"/>
<rect x="410.75" y="498.25" width="11" height="8.75" fill="#000"/>
<path d="M436 499.25L436 496.25" stroke="#333" stroke-width="1" fill="none"/>
<path d="M432.8 496.25L439.2 496.25" stroke="#111" stroke-width="1.2" fill="none"/>
<rect x="431.25" y="499.75" width="9.5" height="7.25" fill="#fff" stroke="#000" stroke-width="1.1"/>
<path d="M446.5 493L446.5 489.5" stroke="#333" stroke-width="1" fill="none"/>
<path d="M443.3 489.5L449.7 489.5" stroke="#111" stroke-width="1.2" fill="none"/>
<rect x="441.25" y="493" width="10.5" height="14" fill="#000"/>
<path d="M465.62 485.75L465.62 481.25" stroke="#333" stroke-width="1" fill="none"/>
<path d="M462.43 481.25L468.82 481.25" stroke="#111" stroke-width="1.2" fill="none"/>
<rect x="461.25" y="486.25" width="8.75" height="20.75" fill="#fff" stroke="#000" stroke-width="1.1"/>
<path d="M475.88 474.25L475.88 470" stroke="#333" stroke-width="1" fill="none"/>
<path d="M472.68 470L479.07 470" stroke="#111" stroke-width="1.2" fill="none"/>
<rect x="470.5" y="474.25" width="10.75" height="32.75" fill="#000"/>
<path d="M495.75 483.75L495.75 475.5" stroke="#333" stroke-width="1" fill="none"/>
<path d="M492.55 475.5L498.95 475.5" stroke="#111" stroke-width="1.2" fill="none"/>
<rect x="491.25" y="484.25" width="9" height="22.75" fill="#fff" stroke="#000" stroke-width="1.1"/>
<path d="M506.25 455.5L506.25 444.5" stroke="#333" stroke-width="1" fill="none"/>
<path d="M503.05 444.5L509.45 444.5" stroke="#111" stroke-width="1.2" fill="none"/>
<rect x="500.75" y="455.5" width="11" height="51.5" fill="#000"/>
<text x="465.75" y="483.71" font-size="17" text-anchor="middle" fill="#000" letter-spacing="-0.5">*</text>
<text x="476.5" y="472.46" font-size="17" text-anchor="middle" fill="#000" letter-spacing="-0.5">**</text>
<text x="506.5" y="447.46" font-size="17" text-anchor="middle" fill="#000" letter-spacing="-0.5">**</text>
<text transform="translate(376.8 471.2) rotate(-90)" font-size="12.4" font-weight="bold" text-anchor="middle" fill="#000"><tspan dy="0">Thy1.1</tspan><tspan dy="-4.6" font-size="8.3">+</tspan><tspan dy="4.6"> (x10</tspan><tspan dy="-4.6" font-size="8.3">-6</tspan><tspan dy="4.6">)</tspan></text>
<text x="411.25" y="522.5" font-size="12" text-anchor="middle" fill="#000">0</text>
<text x="441.25" y="522.5" font-size="12" text-anchor="middle" fill="#000">1</text>
<text x="470.5" y="522.5" font-size="12" text-anchor="middle" fill="#000">2</text>
<text x="500.75" y="522.5" font-size="12" text-anchor="middle" fill="#000">3</text>
<path d="M54 178.5h1M53 180.5h1M46 181.5h1M39 183.5h1M39 184.5h1M45 184.5h2M49 184.5h2M45 185.5h1M48 186.5h1M62 186.5h1M74 186.5h1M59 188.5h1M49 190.5h1M68 191.5h1M47 192.5h1M59 192.5h1M64 192.5h1M45 193.5h1M66 193.5h1M68 194.5h1M68 195.5h1M69 196.5h1M64 197.5h1M62 198.5h1M66 200.5h1M64 201.5h1M65 202.5h1M68 209.5h1M68 213.5h1" stroke="#a0a0a0" stroke-width="1" fill="none"/>
<path d="M41 195.5h1M45 195.5h1M50 195.5h1M56 196.5h1M58 196.5h1M39 197.5h1M59 198.5h1M60 199.5h1M61 200.5h1M61 202.5h1M62 204.5h1M63 205.5h1M64 207.5h1M65 208.5h1M63 209.5h1M65 209.5h1M63 210.5h2M64 214.5h1M66 215.5h1M64 216.5h2M65 217.5h1M67 217.5h1M64 218.5h2M64 220.5h1M63 222.5h1M65 222.5h1M64 224.5h1M64 225.5h1" stroke="#707070" stroke-width="1" fill="none"/>
<path d="M44 196.5h11M40 197.5h18M39 198.5h20M39 199.5h21M39 200.5h22M39 201.5h22M39 202.5h22M39 203.5h23M39 204.5h23M39 205.5h23M39 206.5h24M39 207.5h24M39 208.5h24M39 209.5h23M39 210.5h23M39 211.5h24M39 212.5h23M63 212.5h1M39 213.5h24M39 214.5h23M39 215.5h23M63 215.5h1M39 216.5h24M39 217.5h23M63 217.5h1M39 218.5h24M39 219.5h24M39 220.5h24M39 221.5h24M39 222.5h24M39 223.5h24M39 224.5h24M39 225.5h24" stroke="#000" stroke-width="1" fill="none"/>
<path d="M43.00 225.70V208.00A7.00 7.00 0 0 1 50.00 201.00H51.00A7.00 7.00 0 0 1 58.00 208.00V225.70Z" fill="#dcdcdc" stroke="#5e5e5e" stroke-width="1"/>
<path d="M44.70 225.70V208.50A5.30 5.30 0 0 1 50.00 203.20H51.00A5.30 5.30 0 0 1 56.30 208.50V225.70Z" fill="none" stroke="#7c7c7c" stroke-width="0.75"/>
<path d="M46.60 225.70V209.40A3.40 3.40 0 0 1 50.00 206.00H51.00A3.40 3.40 0 0 1 54.40 209.40V225.70Z" fill="none" stroke="#7c7c7c" stroke-width="0.75"/>
<ellipse cx="50.5" cy="209.5" rx="1.6" ry="2.8" fill="#f2f2f2" stroke="#7a7a7a" stroke-width="0.7"/>
<rect x="38" y="156.5" width="71.6" height="69.8" fill="none" stroke="#111" stroke-width="1.2"/>
<path d="M38 162.32h-1.8M38 168.13h-1.8M38 173.95h-1.8M38 179.77h-1.8M38 185.58h-1.8M38 191.4h-1.8M38 197.22h-1.8M38 203.03h-1.8M38 208.85h-1.8M38 214.67h-1.8M38 220.48h-1.8M43.97 226.3v1.8M49.93 226.3v1.8M55.9 226.3v1.8M61.87 226.3v1.8M67.83 226.3v1.8M73.8 226.3v1.8M79.77 226.3v1.8M85.73 226.3v1.8M91.7 226.3v1.8M97.67 226.3v1.8M103.63 226.3v1.8" stroke="#222" stroke-width="0.9" fill="none"/>
<path d="M41.2 175.8H58.8V195.8H41.2Z M58.8 175.8H84.3V205H62.5 M62.5 226.3V205H84.3V226.3" fill="none" stroke="#0a0a0a" stroke-width="1.3"/>
<text x="41.3" y="169.1" font-size="12" fill="#000">0.1</text>
<text x="107.3" y="169.1" font-size="12" text-anchor="end" fill="#000">0.1</text>
<text x="107.3" y="221.5" font-size="12" text-anchor="end" fill="#000" stroke="#fff" stroke-width="2.2" paint-order="stroke">0.2</text>
<path d="M125 179.5h1M144 179.5h1M146 181.5h1M128 182.5h1M129 183.5h2M134 183.5h1M132 184.5h1M146 184.5h1M148 184.5h1M128 185.5h1M134 185.5h1M127 186.5h1M135 186.5h1M147 186.5h1M149 186.5h1M125 187.5h1M137 187.5h1M155 187.5h1M132 188.5h1M144 188.5h1M146 188.5h1M133 189.5h1M127 190.5h1M129 190.5h1M135 190.5h1M145 190.5h1M125 191.5h1M134 191.5h2M154 191.5h1M151 193.5h1M150 197.5h1M154 198.5h1M158 198.5h1M151 199.5h1M154 199.5h1M151 203.5h1M153 204.5h1M152 206.5h1M154 210.5h1M152 219.5h1M153 224.5h1" stroke="#a0a0a0" stroke-width="1" fill="none"/>
<path d="M123 192.5h1M126 192.5h1M130 192.5h1M137 192.5h2M140 192.5h1M148 192.5h1M126 193.5h1M135 193.5h1M138 193.5h1M141 193.5h1M144 193.5h1M142 194.5h1M148 194.5h1M122 195.5h1M149 195.5h1M144 196.5h1M147 199.5h1M147 200.5h1M147 201.5h1M148 202.5h1M150 202.5h1M148 204.5h1M150 204.5h1M148 205.5h2M147 206.5h2M148 207.5h1M150 207.5h2M150 208.5h1M149 209.5h1M148 210.5h1M150 210.5h1M150 211.5h1M149 214.5h2M149 215.5h2M149 216.5h1M150 217.5h1M148 218.5h1M148 219.5h1M150 220.5h1M148 221.5h1M151 221.5h1M149 222.5h1M147 223.5h2M150 224.5h1" stroke="#707070" stroke-width="1" fill="none"/>
<path d="M124 194.5h4M131 194.5h1M134 194.5h2M137 194.5h1M139 194.5h1M123 195.5h18M142 195.5h1M121 196.5h23M120 197.5h24M120 198.5h26M120 199.5h26M120 200.5h26M120 201.5h26M120 202.5h27M120 203.5h27M120 204.5h27M120 205.5h27M120 206.5h26M120 207.5h26M120 208.5h28M120 209.5h27M120 210.5h28M120 211.5h27M120 212.5h27M148 212.5h1M120 213.5h28M120 214.5h27M120 215.5h29M120 216.5h27M120 217.5h28M120 218.5h26M120 219.5h26M147 219.5h1M120 220.5h26M147 220.5h1M120 221.5h26M147 221.5h1M120 222.5h27M120 223.5h27M120 224.5h26M120 225.5h27" stroke="#000" stroke-width="1" fill="none"/>
<path d="M124.40 225.70V207.30A7.00 7.00 0 0 1 131.40 200.30H132.00A7.00 7.00 0 0 1 139.00 207.30V225.70Z" fill="#dcdcdc" stroke="#5e5e5e" stroke-width="1"/>
<path d="M126.10 225.70V207.80A5.30 5.30 0 0 1 131.40 202.50H132.00A5.30 5.30 0 0 1 137.30 207.80V225.70Z" fill="none" stroke="#7c7c7c" stroke-width="0.75"/>
<path d="M128.00 225.70V208.70A3.40 3.40 0 0 1 131.40 205.30H132.00A3.40 3.40 0 0 1 135.40 208.70V225.70Z" fill="none" stroke="#7c7c7c" stroke-width="0.75"/>
<ellipse cx="131.7" cy="208.8" rx="1.6" ry="2.8" fill="#f2f2f2" stroke="#7a7a7a" stroke-width="0.7"/>
<rect x="119.4" y="156.5" width="71.8" height="69.8" fill="none" stroke="#111" stroke-width="1.2"/>
<path d="M119.4 162.32h-1.8M119.4 168.13h-1.8M119.4 173.95h-1.8M119.4 179.77h-1.8M119.4 185.58h-1.8M119.4 191.4h-1.8M119.4 197.22h-1.8M119.4 203.03h-1.8M119.4 208.85h-1.8M119.4 214.67h-1.8M119.4 220.48h-1.8M125.38 226.3v1.8M131.37 226.3v1.8M137.35 226.3v1.8M143.33 226.3v1.8M149.32 226.3v1.8M155.3 226.3v1.8M161.28 226.3v1.8M167.27 226.3v1.8M173.25 226.3v1.8M179.23 226.3v1.8M185.22 226.3v1.8" stroke="#222" stroke-width="0.9" fill="none"/>
<path d="M122.6 175.8H140.2V195.8H122.6Z M140.2 175.8H165.7V205H143.9 M143.9 226.3V205H165.7V226.3" fill="none" stroke="#0a0a0a" stroke-width="1.3"/>
<text x="122.7" y="169.1" font-size="12" fill="#000">0.2</text>
<text x="188.9" y="169.1" font-size="12" text-anchor="end" fill="#000">0.3</text>
<text x="188.9" y="221.5" font-size="12" text-anchor="end" fill="#000" stroke="#fff" stroke-width="2.2" paint-order="stroke">0.2</text>
<path d="M80 246.5h1M79 250.5h2M45 251.5h1M71 252.5h1M82 252.5h1M77 254.5h1M69 256.5h1M71 256.5h1M54 257.5h1M58 257.5h1M69 257.5h1M80 257.5h1M50 258.5h1M66 260.5h1M61 261.5h1M56 262.5h1M44 264.5h1M56 264.5h1M62 264.5h1M43 265.5h1M48 265.5h1M81 265.5h1M41 266.5h1M50 266.5h1M54 266.5h1M49 267.5h2M58 267.5h1M49 268.5h1M46 269.5h1M58 269.5h1M50 270.5h1M57 270.5h1M83 270.5h1M43 271.5h1M43 272.5h1M55 272.5h1M75 272.5h1M74 274.5h1M78 275.5h1M71 277.5h1M68 282.5h1M68 284.5h1M69 289.5h1M68 296.5h1M68 297.5h1M67 301.5h1M66 303.5h1" stroke="#a0a0a0" stroke-width="1" fill="none"/>
<path d="M70 258.5h1M74 258.5h1M78 258.5h2M78 259.5h1M67 260.5h1M69 260.5h1M71 260.5h3M66 261.5h1M71 261.5h2M74 261.5h1M77 261.5h2M67 262.5h3M76 262.5h2M80 262.5h1M76 263.5h2M65 264.5h1M67 264.5h1M63 265.5h1M76 265.5h2M63 266.5h3M64 267.5h1M60 268.5h1M62 269.5h1M74 269.5h1M73 270.5h1M60 271.5h1M57 272.5h1M59 272.5h1M42 273.5h1M48 273.5h1M58 273.5h1M60 273.5h1M44 274.5h1M54 274.5h2M58 274.5h2M70 274.5h1M72 274.5h1M40 276.5h1M68 277.5h2M67 280.5h1M68 281.5h1M66 283.5h1M65 285.5h1M67 286.5h1M65 289.5h1M66 290.5h1M65 291.5h1M65 292.5h1M67 293.5h1M66 295.5h1M64 296.5h1M66 296.5h1M64 297.5h2M65 298.5h1M64 299.5h2M64 300.5h1M64 301.5h2M63 302.5h1M63 303.5h1M63 304.5h1M65 304.5h1" stroke="#707070" stroke-width="1" fill="none"/>
<path d="M74 262.5h2M73 263.5h2M70 264.5h3M74 264.5h1M67 265.5h1M70 265.5h5M67 266.5h3M71 266.5h2M66 267.5h2M69 267.5h3M73 267.5h2M64 268.5h5M70 268.5h2M73 268.5h1M63 269.5h1M65 269.5h5M71 269.5h1M63 270.5h8M63 271.5h8M61 272.5h10M62 273.5h9M60 274.5h8M69 274.5h1M42 275.5h3M50 275.5h1M52 275.5h1M54 275.5h2M60 275.5h9M41 276.5h16M58 276.5h1M60 276.5h8M40 277.5h27M39 278.5h29M39 279.5h28M39 280.5h28M39 281.5h27M39 282.5h26M39 283.5h25M39 284.5h25M39 285.5h24M64 285.5h1M39 286.5h25M39 287.5h24M39 288.5h25M39 289.5h24M64 289.5h1M39 290.5h26M39 291.5h25M39 292.5h25M39 293.5h24M64 293.5h1M39 294.5h25M39 295.5h25M39 296.5h25M39 297.5h25M39 298.5h24M39 299.5h25M39 300.5h24M39 301.5h23M39 302.5h24M39 303.5h23M39 304.5h23M39 305.5h23" stroke="#000" stroke-width="1" fill="none"/>
<path d="M43.50 306.40V288.00A7.00 7.00 0 0 1 50.50 281.00H50.80A7.00 7.00 0 0 1 57.80 288.00V306.40Z" fill="#dcdcdc" stroke="#5e5e5e" stroke-width="1"/>
<path d="M45.20 306.40V288.50A5.30 5.30 0 0 1 50.50 283.20H50.80A5.30 5.30 0 0 1 56.10 288.50V306.40Z" fill="none" stroke="#7c7c7c" stroke-width="0.75"/>
<path d="M47.10 306.40V289.40A3.40 3.40 0 0 1 50.50 286.00H50.80A3.40 3.40 0 0 1 54.20 289.40V306.40Z" fill="none" stroke="#7c7c7c" stroke-width="0.75"/>
<ellipse cx="50.65" cy="289.5" rx="1.6" ry="2.8" fill="#f2f2f2" stroke="#7a7a7a" stroke-width="0.7"/>
<rect x="38" y="236.3" width="71.6" height="70.7" fill="none" stroke="#111" stroke-width="1.2"/>
<path d="M38 242.19h-1.8M38 248.08h-1.8M38 253.98h-1.8M38 259.87h-1.8M38 265.76h-1.8M38 271.65h-1.8M38 277.54h-1.8M38 283.43h-1.8M38 289.32h-1.8M38 295.22h-1.8M38 301.11h-1.8M43.97 307v1.8M49.93 307v1.8M55.9 307v1.8M61.87 307v1.8M67.83 307v1.8M73.8 307v1.8M79.77 307v1.8M85.73 307v1.8M91.7 307v1.8M97.67 307v1.8M103.63 307v1.8" stroke="#222" stroke-width="0.9" fill="none"/>
<path d="M41.2 255.6H58.8V275.6H41.2Z M58.8 255.6H84.3V284.8H65 M65 307V284.8H84.3V307" fill="none" stroke="#0a0a0a" stroke-width="1.3"/>
<text x="41.3" y="248.9" font-size="12" fill="#000">0.1</text>
<text x="107.3" y="248.9" font-size="12" text-anchor="end" fill="#000">1.8</text>
<text x="107.3" y="302.2" font-size="12" text-anchor="end" fill="#000" stroke="#fff" stroke-width="2.2" paint-order="stroke">0.3</text>
<path d="M153 241.5h1M161 247.5h1M163 247.5h1M161 248.5h1M125 250.5h1M145 251.5h1M167 251.5h1M169 251.5h1M135 252.5h1M125 253.5h1M127 253.5h1M166 253.5h2M144 254.5h1M132 256.5h1M137 256.5h1M141 256.5h2M145 256.5h1M168 256.5h1M126 257.5h1M166 257.5h1M169 257.5h1M170 258.5h1M168 259.5h1M126 260.5h1M138 260.5h1M131 261.5h1M137 261.5h1M166 261.5h1M169 261.5h1M166 262.5h1M128 263.5h1M132 264.5h1M136 264.5h1M165 264.5h1M169 264.5h1M134 265.5h1M167 267.5h1M170 267.5h1M128 268.5h1M134 268.5h1M123 270.5h1M158 276.5h1M156 278.5h1M156 286.5h1M155 290.5h1M157 292.5h1M155 295.5h1M153 304.5h1" stroke="#a0a0a0" stroke-width="1" fill="none"/>
<path d="M159 249.5h1M157 252.5h2M161 252.5h1M152 253.5h1M156 253.5h1M163 253.5h1M154 254.5h1M148 255.5h1M150 255.5h1M152 255.5h2M158 255.5h1M160 255.5h1M163 255.5h1M150 256.5h1M152 256.5h1M163 256.5h2M146 257.5h1M148 257.5h2M165 257.5h1M146 258.5h2M161 258.5h2M164 258.5h2M143 259.5h1M146 259.5h2M162 259.5h1M161 260.5h1M143 261.5h1M161 261.5h1M164 261.5h2M161 262.5h1M143 263.5h2M161 263.5h1M163 263.5h1M139 264.5h1M143 264.5h1M162 264.5h1M141 265.5h1M160 265.5h1M162 265.5h1M142 266.5h1M140 267.5h1M160 267.5h1M140 268.5h1M159 268.5h1M161 268.5h2M138 269.5h1M132 270.5h1M134 270.5h1M137 270.5h1M127 271.5h3M126 272.5h1M131 272.5h1M124 273.5h1M156 273.5h1M158 273.5h1M154 275.5h1M153 276.5h1M155 276.5h1M157 276.5h1M152 277.5h1M155 277.5h2M151 280.5h1M154 280.5h1M154 282.5h1M151 283.5h2M153 284.5h2M153 285.5h1M152 288.5h1M154 289.5h1M152 292.5h1M153 293.5h1M154 294.5h1M152 295.5h2M151 300.5h1M151 301.5h1M151 302.5h1M150 304.5h2M152 305.5h1" stroke="#707070" stroke-width="1" fill="none"/>
<path d="M156 255.5h1M155 256.5h1M157 256.5h1M151 257.5h2M155 257.5h1M158 257.5h1M150 258.5h9M149 259.5h2M152 259.5h7M160 259.5h1M147 260.5h1M150 260.5h9M147 261.5h1M149 261.5h4M154 261.5h7M145 262.5h10M156 262.5h3M146 263.5h1M148 263.5h8M157 263.5h1M159 263.5h1M146 264.5h10M157 264.5h4M144 265.5h14M159 265.5h1M143 266.5h13M157 266.5h1M159 266.5h1M143 267.5h1M145 267.5h12M159 267.5h1M141 268.5h1M144 268.5h15M143 269.5h13M157 269.5h2M140 270.5h17M140 271.5h17M133 272.5h3M138 272.5h14M153 272.5h3M125 273.5h2M128 273.5h2M131 273.5h22M154 273.5h2M122 274.5h2M125 274.5h26M152 274.5h3M121 275.5h33M120 276.5h30M151 276.5h2M120 277.5h32M120 278.5h32M120 279.5h31M120 280.5h30M120 281.5h31M120 282.5h31M120 283.5h30M120 284.5h30M120 285.5h32M120 286.5h29M120 287.5h29M150 287.5h2M120 288.5h29M150 288.5h2M120 289.5h30M151 289.5h1M120 290.5h30M151 290.5h1M120 291.5h31M120 292.5h32M120 293.5h30M151 293.5h1M120 294.5h30M151 294.5h1M120 295.5h30M151 295.5h1M120 296.5h31M120 297.5h29M151 297.5h1M120 298.5h31M120 299.5h31M120 300.5h31M120 301.5h31M120 302.5h29M150 302.5h1M120 303.5h31M120 304.5h30M120 305.5h29" stroke="#000" stroke-width="1" fill="none"/>
<path d="M126.00 306.40L126.00 284.00L128.90 279.00L144.90 276.00L143.40 287.00L142.40 306.40Z" fill="#dcdcdc" stroke="#5e5e5e" stroke-width="1"/>
<path d="M127.90 306.40L127.90 285.50L130.40 281.50L140.90 280.00L140.40 289.00L139.90 306.40Z" fill="none" stroke="#7c7c7c" stroke-width="0.75"/>
<path d="M130.40 306.40L130.40 288.00L132.40 284.50L137.90 284.00L137.90 291.00L137.40 306.40Z" fill="none" stroke="#7c7c7c" stroke-width="0.75"/>
<ellipse cx="134.4" cy="291" rx="1.6" ry="2.8" fill="#f2f2f2" stroke="#7a7a7a" stroke-width="0.7"/>
<rect x="119.4" y="236.3" width="71.8" height="70.7" fill="none" stroke="#111" stroke-width="1.2"/>
<path d="M119.4 242.19h-1.8M119.4 248.08h-1.8M119.4 253.98h-1.8M119.4 259.87h-1.8M119.4 265.76h-1.8M119.4 271.65h-1.8M119.4 277.54h-1.8M119.4 283.43h-1.8M119.4 289.32h-1.8M119.4 295.22h-1.8M119.4 301.11h-1.8M125.38 307v1.8M131.37 307v1.8M137.35 307v1.8M143.33 307v1.8M149.32 307v1.8M155.3 307v1.8M161.28 307v1.8M167.27 307v1.8M173.25 307v1.8M179.23 307v1.8M185.22 307v1.8" stroke="#222" stroke-width="0.9" fill="none"/>
<path d="M122.6 255.6H140.2V275.6H122.6Z M140.2 255.6H165.7V284.8H146.4 M146.4 307V284.8H165.7V307" fill="none" stroke="#0a0a0a" stroke-width="1.3"/>
<text x="122.7" y="248.9" font-size="12" fill="#000">0.1</text>
<text x="188.9" y="248.9" font-size="12" text-anchor="end" fill="#000">5.2</text>
<text x="188.9" y="302.2" font-size="12" text-anchor="end" fill="#000" stroke="#fff" stroke-width="2.2" paint-order="stroke">0.9</text>
<text x="74.5" y="151.5" font-size="12.3" font-weight="bold" text-anchor="middle" fill="#000">PBS (d3)</text>
<text x="155.2" y="151.5" font-size="12.3" font-weight="bold" text-anchor="middle" fill="#000">LPS (d3)</text>
<path d="M62 380.5h1M64 382.5h1M49 385.5h1M54 385.5h1M55 387.5h1M46 388.5h1M42 390.5h1M51 390.5h1M50 392.5h1M57 393.5h1M42 394.5h1M58 394.5h1M61 394.5h1M65 394.5h1M95 394.5h1M45 395.5h1M55 395.5h1M65 396.5h1M38 399.5h1M50 399.5h1M62 399.5h1M45 400.5h1M48 400.5h1M63 400.5h1M40 401.5h1M65 401.5h3M69 402.5h1M76 402.5h1M80 403.5h1M105 403.5h1M84 404.5h1M71 405.5h1M89 407.5h1M95 407.5h1M101 407.5h1M80 408.5h1M92 408.5h1M94 408.5h1M75 409.5h1M79 409.5h1M97 409.5h1M77 410.5h2M83 410.5h1M81 411.5h1M84 412.5h2M96 412.5h1M96 413.5h1M93 414.5h1M99 415.5h1M101 415.5h1M99 417.5h1M100 419.5h1M104 419.5h1M103 421.5h1M105 421.5h1M102 422.5h1M105 422.5h1M104 424.5h2M104 425.5h1M106 426.5h1M104 428.5h1M101 431.5h1M107 432.5h1M98 433.5h1M100 433.5h1M92 435.5h2M97 435.5h1M92 436.5h1M96 436.5h1M85 437.5h1M89 437.5h1M97 437.5h1" stroke="#a0a0a0" stroke-width="1" fill="none"/>
<path d="M44 401.5h1M53 401.5h1M40 402.5h1M48 402.5h1M52 402.5h2M57 402.5h2M60 402.5h1M38 403.5h1M46 403.5h2M49 403.5h1M61 403.5h1M64 403.5h1M42 404.5h1M47 404.5h2M50 404.5h1M52 404.5h2M61 404.5h2M40 405.5h1M43 405.5h1M46 405.5h1M48 405.5h2M54 405.5h1M56 405.5h1M59 405.5h1M61 405.5h1M63 405.5h1M66 405.5h2M67 406.5h1M65 407.5h2M69 407.5h1M68 408.5h1M72 408.5h1M67 409.5h3M66 410.5h2M71 410.5h1M66 411.5h1M70 411.5h1M66 412.5h1M77 412.5h2M80 412.5h1M82 412.5h1M68 413.5h2M73 413.5h1M75 413.5h1M78 413.5h3M85 413.5h1M71 414.5h1M73 414.5h1M78 414.5h1M82 414.5h1M75 415.5h1M77 415.5h1M80 415.5h1M88 415.5h1M72 416.5h3M77 416.5h2M81 416.5h1M83 416.5h1M89 416.5h1M73 417.5h1M76 417.5h1M82 417.5h1M74 418.5h1M76 418.5h1M82 418.5h1M84 418.5h1M89 418.5h1M94 418.5h1M76 419.5h1M79 419.5h2M82 419.5h1M85 419.5h1M88 419.5h1M90 419.5h1M98 419.5h1M78 420.5h1M81 420.5h2M88 420.5h1M93 420.5h2M79 421.5h1M81 421.5h2M84 421.5h1M91 421.5h2M83 422.5h1M86 422.5h2M92 422.5h2M95 422.5h1M84 423.5h1M88 423.5h3M94 423.5h1M83 424.5h2M86 424.5h1M89 424.5h1M97 424.5h3M81 425.5h2M85 425.5h3M94 425.5h1M82 426.5h2M85 426.5h1M88 426.5h1M100 426.5h1M81 427.5h1M88 427.5h1M90 427.5h1M94 427.5h2M81 428.5h1M90 428.5h1M94 428.5h1M96 428.5h1M78 429.5h1M85 429.5h1M87 429.5h1M89 429.5h1M94 429.5h1M99 429.5h1M81 430.5h2M84 430.5h1M90 430.5h1M97 430.5h1M76 431.5h1M79 431.5h1M95 431.5h1M75 432.5h1M77 432.5h1M82 432.5h2M86 432.5h1M94 432.5h1M77 433.5h1M81 433.5h1M88 433.5h1M71 434.5h1M73 434.5h1M77 434.5h1M80 434.5h2M83 434.5h1M89 434.5h1M71 435.5h2M76 435.5h1M88 435.5h1M72 436.5h1M74 436.5h1M82 436.5h1M85 436.5h1M69 437.5h2M75 437.5h1M80 437.5h1" stroke="#707070" stroke-width="1" fill="none"/>
<path d="M38 406.5h1M41 406.5h2M44 406.5h3M48 406.5h1M51 406.5h2M54 406.5h1M56 406.5h1M58 406.5h5M38 407.5h26M38 408.5h26M38 409.5h26M38 410.5h27M38 411.5h26M38 412.5h25M64 412.5h1M38 413.5h25M38 414.5h26M66 414.5h1M38 415.5h25M64 415.5h2M69 415.5h1M38 416.5h26M68 416.5h3M38 417.5h25M64 417.5h2M67 417.5h5M38 418.5h25M64 418.5h2M67 418.5h3M72 418.5h2M38 419.5h31M70 419.5h3M75 419.5h1M38 420.5h26M65 420.5h5M73 420.5h1M38 421.5h26M65 421.5h1M67 421.5h2M70 421.5h1M72 421.5h4M77 421.5h2M38 422.5h32M71 422.5h7M38 423.5h28M68 423.5h3M72 423.5h1M74 423.5h1M76 423.5h1M78 423.5h2M38 424.5h32M72 424.5h1M74 424.5h2M79 424.5h2M38 425.5h33M73 425.5h2M76 425.5h2M38 426.5h27M66 426.5h8M76 426.5h4M38 427.5h29M68 427.5h4M77 427.5h3M38 428.5h31M70 428.5h1M72 428.5h2M77 428.5h2M38 429.5h29M68 429.5h4M73 429.5h1M75 429.5h1M38 430.5h29M68 430.5h4M73 430.5h1M75 430.5h2M38 431.5h27M66 431.5h3M70 431.5h2M74 431.5h1M38 432.5h28M68 432.5h1M72 432.5h1M38 433.5h25M64 433.5h2M67 433.5h1M69 433.5h2M38 434.5h25M64 434.5h6M38 435.5h27M67 435.5h1M38 436.5h27M66 436.5h3M38 437.5h28" stroke="#000" stroke-width="1" fill="none"/>
<path d="M41.80 437.70V417.30A5.00 5.00 0 0 1 46.80 412.30H53.70A5.00 5.00 0 0 1 58.70 417.30V437.70Z" fill="#dcdcdc" stroke="#5e5e5e" stroke-width="1"/>
<path d="M43.60 437.70V418.50A4.00 4.00 0 0 1 47.60 414.50H52.90A4.00 4.00 0 0 1 56.90 418.50V437.70Z" fill="none" stroke="#7c7c7c" stroke-width="0.75"/>
<path d="M45.80 437.70V420.80A3.00 3.00 0 0 1 48.80 417.80H51.70A3.00 3.00 0 0 1 54.70 420.80V437.70Z" fill="none" stroke="#7c7c7c" stroke-width="0.75"/>
<ellipse cx="50.25" cy="421.3" rx="1.6" ry="2.8" fill="#f2f2f2" stroke="#7a7a7a" stroke-width="0.7"/>
<rect x="37.6" y="367.5" width="71.4" height="70.8" fill="none" stroke="#111" stroke-width="1.2"/>
<path d="M37.6 373.4h-1.8M37.6 379.3h-1.8M37.6 385.2h-1.8M37.6 391.1h-1.8M37.6 397h-1.8M37.6 402.9h-1.8M37.6 408.8h-1.8M37.6 414.7h-1.8M37.6 420.6h-1.8M37.6 426.5h-1.8M37.6 432.4h-1.8M43.55 438.3v1.8M49.5 438.3v1.8M55.45 438.3v1.8M61.4 438.3v1.8M67.35 438.3v1.8M73.3 438.3v1.8M79.25 438.3v1.8M85.2 438.3v1.8M91.15 438.3v1.8M97.1 438.3v1.8M103.05 438.3v1.8" stroke="#222" stroke-width="0.9" fill="none"/>
<path d="M62.3 367.5V438.3M37.6 407.2H109" stroke="#0a0a0a" stroke-width="1.15" fill="none"/>
<text x="40.9" y="380.1" font-size="12" fill="#000">0.1</text>
<text x="106.7" y="380.1" font-size="12" text-anchor="end" fill="#000">0</text>
<text x="106.7" y="433.5" font-size="12" text-anchor="end" fill="#000" stroke="#fff" stroke-width="2.2" paint-order="stroke">2.2</text>
<path d="M165 385.5h1M167 390.5h1M155 392.5h1M162 392.5h1M166 392.5h1M159 393.5h1M142 394.5h1M146 394.5h1M154 394.5h1M167 395.5h1M145 396.5h1M154 396.5h1M161 396.5h2M156 397.5h1M168 397.5h1M130 398.5h1M148 398.5h1M151 398.5h1M166 398.5h3M175 398.5h1M171 399.5h1M129 400.5h1M131 400.5h1M150 400.5h1M169 400.5h1M120 401.5h2M156 401.5h1M164 401.5h1M157 402.5h1M164 402.5h1M168 404.5h1M162 405.5h2M173 405.5h1M168 407.5h1M172 407.5h1M171 408.5h1M182 408.5h1M185 408.5h1M178 409.5h1M184 409.5h1M181 411.5h1M183 411.5h1M187 411.5h1M181 412.5h1M189 417.5h1M188 418.5h1M189 420.5h1M188 421.5h1M189 422.5h1M189 425.5h1" stroke="#a0a0a0" stroke-width="1" fill="none"/>
<path d="M137 401.5h1M133 402.5h4M139 402.5h1M119 403.5h1M123 403.5h1M131 403.5h1M133 403.5h1M135 403.5h1M140 403.5h1M153 403.5h1M124 404.5h1M128 404.5h2M132 404.5h1M137 404.5h1M139 404.5h1M145 404.5h1M126 405.5h1M130 405.5h1M132 405.5h3M136 405.5h2M140 405.5h2M147 405.5h1M151 405.5h2M157 405.5h1M148 406.5h1M152 406.5h2M147 407.5h3M155 407.5h2M159 407.5h1M149 408.5h2M152 408.5h1M154 408.5h1M160 408.5h1M164 408.5h2M151 409.5h3M163 409.5h1M165 409.5h1M169 409.5h2M151 410.5h1M172 410.5h1M152 411.5h1M160 411.5h1M168 411.5h1M176 411.5h2M154 412.5h2M157 412.5h1M162 412.5h2M168 412.5h2M171 412.5h1M176 412.5h2M180 412.5h1M156 413.5h3M162 413.5h1M165 413.5h3M169 413.5h2M182 413.5h1M157 414.5h1M162 414.5h1M165 414.5h1M167 414.5h2M172 414.5h1M174 414.5h1M158 415.5h1M162 415.5h1M168 415.5h1M170 415.5h1M180 415.5h1M183 415.5h1M160 416.5h1M165 416.5h1M169 416.5h1M171 416.5h2M176 416.5h1M178 416.5h1M180 416.5h1M183 416.5h1M185 416.5h1M160 417.5h1M166 417.5h2M174 417.5h2M177 417.5h2M165 418.5h1M167 418.5h1M169 418.5h2M172 418.5h1M175 418.5h1M184 418.5h1M186 418.5h1M171 419.5h1M173 419.5h1M176 419.5h1M181 419.5h1M186 419.5h1M172 420.5h1M174 420.5h1M176 420.5h1M180 420.5h2M174 421.5h1M176 421.5h3M180 421.5h1M183 421.5h1M185 421.5h1M187 421.5h1M175 422.5h2M185 422.5h1M175 423.5h1M177 423.5h1M180 423.5h1M175 424.5h2M179 424.5h1M182 424.5h2M187 424.5h1M177 425.5h2M180 425.5h1M176 426.5h1M179 426.5h2M174 427.5h1M176 427.5h1M182 427.5h1M184 427.5h1M174 428.5h1M182 428.5h1M185 428.5h1M175 429.5h1M178 429.5h1M180 429.5h2M183 429.5h1M185 429.5h1M171 430.5h3M177 430.5h1M180 430.5h2M183 430.5h1M175 431.5h1M179 431.5h2M182 431.5h1M162 432.5h1M164 432.5h1M166 432.5h3M171 432.5h2M181 432.5h1M186 432.5h1M162 433.5h1M164 433.5h1M166 433.5h1M171 433.5h1M173 433.5h1M179 433.5h1M182 433.5h1M158 434.5h2M163 434.5h2M170 434.5h1M178 434.5h1M157 435.5h1M162 435.5h2M166 435.5h2M169 435.5h1M171 435.5h1M174 435.5h3M181 435.5h1M162 436.5h1M167 436.5h1M172 436.5h1M178 436.5h1M155 437.5h1M162 437.5h1M164 437.5h1M177 437.5h1" stroke="#707070" stroke-width="1" fill="none"/>
<path d="M119 406.5h8M128 406.5h4M133 406.5h5M140 406.5h2M143 406.5h2M119 407.5h28M119 408.5h28M148 408.5h1M119 409.5h29M149 409.5h1M119 410.5h30M150 410.5h1M119 411.5h30M151 411.5h1M119 412.5h30M153 412.5h1M119 413.5h30M150 413.5h2M119 414.5h30M150 414.5h1M153 414.5h2M156 414.5h1M119 415.5h31M151 415.5h2M154 415.5h4M119 416.5h34M154 416.5h2M157 416.5h2M119 417.5h31M151 417.5h1M159 417.5h1M119 418.5h34M154 418.5h1M157 418.5h5M119 419.5h36M158 419.5h3M164 419.5h1M119 420.5h35M155 420.5h4M160 420.5h3M164 420.5h1M168 420.5h4M119 421.5h35M155 421.5h1M157 421.5h3M161 421.5h2M164 421.5h1M166 421.5h2M169 421.5h1M119 422.5h32M152 422.5h2M155 422.5h1M157 422.5h1M159 422.5h2M162 422.5h1M164 422.5h1M166 422.5h1M169 422.5h1M119 423.5h36M156 423.5h2M159 423.5h1M161 423.5h1M164 423.5h3M168 423.5h1M171 423.5h3M119 424.5h38M159 424.5h6M169 424.5h1M171 424.5h1M174 424.5h1M119 425.5h36M156 425.5h2M161 425.5h1M163 425.5h1M165 425.5h2M169 425.5h1M171 425.5h3M119 426.5h34M154 426.5h2M159 426.5h1M161 426.5h2M166 426.5h5M174 426.5h1M119 427.5h39M160 427.5h1M162 427.5h1M164 427.5h1M169 427.5h1M171 427.5h1M173 427.5h1M119 428.5h34M154 428.5h4M159 428.5h2M162 428.5h1M164 428.5h1M167 428.5h2M171 428.5h2M119 429.5h35M156 429.5h4M161 429.5h1M163 429.5h1M166 429.5h1M168 429.5h1M170 429.5h1M172 429.5h1M119 430.5h41M164 430.5h4M170 430.5h1M119 431.5h35M155 431.5h1M157 431.5h3M161 431.5h4M119 432.5h32M152 432.5h1M154 432.5h2M160 432.5h1M119 433.5h32M152 433.5h2M155 433.5h2M119 434.5h35M155 434.5h2M119 435.5h32M152 435.5h1M154 435.5h1M119 436.5h33M153 436.5h2M119 437.5h33M153 437.5h1" stroke="#000" stroke-width="1" fill="none"/>
<path d="M122.65 437.70V417.10A5.00 5.00 0 0 1 127.65 412.10H138.95A5.00 5.00 0 0 1 143.95 417.10V437.70Z" fill="#dcdcdc" stroke="#5e5e5e" stroke-width="1"/>
<path d="M124.45 437.70V418.30A4.00 4.00 0 0 1 128.45 414.30H138.15A4.00 4.00 0 0 1 142.15 418.30V437.70Z" fill="none" stroke="#7c7c7c" stroke-width="0.75"/>
<path d="M126.65 437.70V420.60A3.00 3.00 0 0 1 129.65 417.60H136.95A3.00 3.00 0 0 1 139.95 420.60V437.70Z" fill="none" stroke="#7c7c7c" stroke-width="0.75"/>
<ellipse cx="133.3" cy="421.1" rx="1.6" ry="2.8" fill="#f2f2f2" stroke="#7a7a7a" stroke-width="0.7"/>
<rect x="118.75" y="367.5" width="71.55" height="70.8" fill="none" stroke="#111" stroke-width="1.2"/>
<path d="M118.75 373.4h-1.8M118.75 379.3h-1.8M118.75 385.2h-1.8M118.75 391.1h-1.8M118.75 397h-1.8M118.75 402.9h-1.8M118.75 408.8h-1.8M118.75 414.7h-1.8M118.75 420.6h-1.8M118.75 426.5h-1.8M118.75 432.4h-1.8M124.71 438.3v1.8M130.68 438.3v1.8M136.64 438.3v1.8M142.6 438.3v1.8M148.56 438.3v1.8M154.53 438.3v1.8M160.49 438.3v1.8M166.45 438.3v1.8M172.41 438.3v1.8M178.38 438.3v1.8M184.34 438.3v1.8" stroke="#222" stroke-width="0.9" fill="none"/>
<path d="M144.65 367.5V438.3M118.75 407.2H190.3" stroke="#0a0a0a" stroke-width="1.15" fill="none"/>
<text x="122.05" y="380.1" font-size="12" fill="#000">0.1</text>
<text x="188" y="380.1" font-size="12" text-anchor="end" fill="#000">0</text>
<text x="188" y="433.5" font-size="12" text-anchor="end" fill="#000" stroke="#fff" stroke-width="2.2" paint-order="stroke">4.2</text>
<path d="M65 462.5h1M102 464.5h1M60 465.5h1M92 466.5h1M48 467.5h1M51 467.5h1M78 467.5h1M92 467.5h2M93 468.5h1M99 468.5h1M91 469.5h1M98 469.5h1M46 470.5h1M77 470.5h1M85 470.5h1M87 470.5h1M97 470.5h1M81 471.5h1M88 471.5h1M49 472.5h2M56 472.5h1M94 472.5h1M101 472.5h1M104 472.5h1M38 473.5h1M52 473.5h1M55 473.5h1M79 473.5h1M89 473.5h1M92 473.5h1M95 473.5h1M38 474.5h1M44 474.5h1M63 474.5h1M70 474.5h1M77 474.5h1M82 474.5h1M89 474.5h2M97 474.5h1M69 475.5h1M82 475.5h1M97 475.5h1M101 475.5h1M104 478.5h1M105 479.5h1M99 482.5h1M97 483.5h1M98 484.5h1M97 485.5h1M100 485.5h1M103 485.5h1M97 486.5h1M101 486.5h1M102 487.5h1M94 488.5h1M98 488.5h1M91 489.5h1M94 489.5h1M97 489.5h1M99 489.5h1M91 490.5h2M103 490.5h1M107 490.5h1M93 492.5h1M96 493.5h1M105 493.5h1M96 494.5h2M105 495.5h1M102 503.5h1M104 506.5h1M103 507.5h1M107 508.5h1M103 509.5h1M106 511.5h1M103 512.5h1M101 513.5h1M96 514.5h1M100 515.5h1M105 515.5h1M93 516.5h1" stroke="#a0a0a0" stroke-width="1" fill="none"/>
<path d="M57 474.5h1M46 475.5h2M55 475.5h2M85 475.5h1M88 475.5h1M46 476.5h1M49 476.5h1M54 476.5h1M71 476.5h1M87 476.5h1M40 477.5h1M42 477.5h1M47 477.5h1M50 477.5h1M52 477.5h1M54 477.5h1M56 477.5h1M60 477.5h2M70 477.5h1M72 477.5h1M74 477.5h1M76 477.5h1M78 477.5h1M87 477.5h1M92 477.5h1M43 478.5h1M48 478.5h1M57 478.5h1M68 478.5h1M71 478.5h1M74 478.5h1M78 478.5h1M83 478.5h2M87 478.5h1M39 479.5h2M55 479.5h2M63 479.5h1M65 479.5h1M76 479.5h3M80 479.5h4M90 479.5h1M93 479.5h1M38 480.5h1M41 480.5h4M62 480.5h1M64 480.5h1M68 480.5h1M70 480.5h1M74 480.5h1M76 480.5h1M80 480.5h2M94 480.5h1M96 480.5h1M41 481.5h1M66 481.5h1M70 481.5h1M79 481.5h2M90 481.5h1M38 482.5h1M40 482.5h2M63 482.5h1M66 482.5h2M70 482.5h1M72 482.5h1M74 482.5h1M86 482.5h1M91 482.5h1M38 483.5h1M65 483.5h1M73 483.5h1M75 483.5h5M83 483.5h1M91 483.5h1M93 483.5h2M66 484.5h2M70 484.5h1M78 484.5h1M81 484.5h1M87 484.5h1M91 484.5h2M95 484.5h1M70 485.5h1M69 486.5h2M75 486.5h1M80 486.5h1M91 486.5h1M70 487.5h1M76 487.5h1M68 488.5h2M72 488.5h1M79 488.5h1M88 488.5h2M67 490.5h2M76 490.5h1M79 490.5h1M83 490.5h1M69 491.5h1M73 491.5h1M80 491.5h3M85 491.5h1M82 492.5h1M85 492.5h1M88 492.5h1M70 493.5h1M72 493.5h1M78 493.5h1M80 493.5h1M82 493.5h1M90 493.5h1M72 494.5h1M74 494.5h2M77 494.5h1M79 494.5h1M81 494.5h2M84 494.5h1M87 494.5h1M91 494.5h2M73 495.5h1M75 495.5h2M79 495.5h2M83 495.5h1M93 495.5h1M84 496.5h1M87 496.5h1M92 496.5h1M75 497.5h1M77 497.5h2M80 497.5h1M82 497.5h1M86 497.5h1M88 497.5h1M90 497.5h1M93 497.5h2M76 498.5h2M81 498.5h1M83 498.5h1M85 498.5h1M87 498.5h1M89 498.5h1M94 498.5h1M76 499.5h1M86 499.5h1M91 499.5h1M97 499.5h1M78 500.5h2M81 500.5h1M84 500.5h1M86 500.5h1M93 500.5h1M100 500.5h1M82 501.5h1M88 501.5h1M91 501.5h1M100 501.5h2M80 502.5h1M85 502.5h2M88 502.5h2M91 502.5h1M93 502.5h1M95 502.5h2M81 503.5h1M83 503.5h1M86 503.5h2M92 503.5h1M95 503.5h1M82 504.5h1M93 504.5h1M82 505.5h1M88 505.5h1M92 505.5h1M81 506.5h1M83 506.5h2M86 506.5h2M89 506.5h3M93 506.5h1M86 507.5h2M90 507.5h2M94 507.5h1M79 508.5h1M81 508.5h1M84 508.5h2M88 508.5h1M93 508.5h1M96 508.5h1M82 509.5h1M87 509.5h1M89 509.5h1M78 510.5h1M80 510.5h2M83 510.5h2M86 510.5h1M89 510.5h1M91 510.5h1M96 510.5h1M77 511.5h2M97 511.5h1M74 512.5h1M76 512.5h1M78 512.5h1M80 512.5h1M86 512.5h2M92 512.5h1M95 512.5h1M75 513.5h1M77 513.5h1M83 513.5h1M88 513.5h2M76 514.5h1M79 514.5h1M86 514.5h1M88 514.5h1M73 515.5h1M81 515.5h1M71 516.5h2M75 516.5h2M81 516.5h1M83 516.5h1" stroke="#707070" stroke-width="1" fill="none"/>
<path d="M48 479.5h1M51 479.5h2M46 480.5h1M49 480.5h1M52 480.5h4M58 480.5h1M43 481.5h1M45 481.5h1M47 481.5h1M51 481.5h6M58 481.5h2M42 482.5h1M47 482.5h4M53 482.5h1M56 482.5h1M58 482.5h2M61 482.5h2M41 483.5h1M43 483.5h2M46 483.5h1M48 483.5h2M53 483.5h4M58 483.5h1M61 483.5h2M45 484.5h1M48 484.5h5M56 484.5h2M59 484.5h2M39 485.5h3M43 485.5h2M46 485.5h8M55 485.5h2M58 485.5h7M38 486.5h25M65 486.5h1M38 487.5h25M65 487.5h1M38 488.5h25M65 488.5h1M38 489.5h26M38 490.5h27M66 490.5h1M38 491.5h29M38 492.5h25M65 492.5h1M68 492.5h1M38 493.5h27M66 493.5h1M68 493.5h2M38 494.5h28M67 494.5h1M69 494.5h2M38 495.5h26M65 495.5h2M69 495.5h1M38 496.5h26M65 496.5h1M68 496.5h1M70 496.5h2M38 497.5h26M65 497.5h2M68 497.5h4M73 497.5h1M38 498.5h30M70 498.5h2M73 498.5h2M38 499.5h32M72 499.5h2M75 499.5h1M38 500.5h26M65 500.5h1M68 500.5h4M74 500.5h4M38 501.5h37M38 502.5h28M67 502.5h2M72 502.5h2M75 502.5h1M78 502.5h1M38 503.5h33M72 503.5h3M76 503.5h1M78 503.5h1M38 504.5h38M78 504.5h1M80 504.5h1M38 505.5h35M76 505.5h1M79 505.5h2M38 506.5h28M67 506.5h2M70 506.5h1M72 506.5h1M76 506.5h1M80 506.5h1M38 507.5h28M68 507.5h4M73 507.5h2M77 507.5h1M79 507.5h1M38 508.5h29M68 508.5h2M71 508.5h6M38 509.5h34M75 509.5h1M77 509.5h1M38 510.5h30M69 510.5h4M74 510.5h1M38 511.5h26M65 511.5h3M69 511.5h2M73 511.5h1M38 512.5h28M68 512.5h5M38 513.5h32M38 514.5h25M64 514.5h2M69 514.5h1M38 515.5h25M64 515.5h3M38 516.5h25M65 516.5h3" stroke="#000" stroke-width="1" fill="none"/>
<path d="M41.20 517.40V498.10A5.00 5.00 0 0 1 46.20 493.10H53.00A5.00 5.00 0 0 1 58.00 498.10V517.40Z" fill="#dcdcdc" stroke="#5e5e5e" stroke-width="1"/>
<path d="M43.00 517.40V499.30A4.00 4.00 0 0 1 47.00 495.30H52.20A4.00 4.00 0 0 1 56.20 499.30V517.40Z" fill="none" stroke="#7c7c7c" stroke-width="0.75"/>
<path d="M45.20 517.40V501.60A3.00 3.00 0 0 1 48.20 498.60H51.00A3.00 3.00 0 0 1 54.00 501.60V517.40Z" fill="none" stroke="#7c7c7c" stroke-width="0.75"/>
<ellipse cx="49.6" cy="502.1" rx="1.6" ry="2.8" fill="#f2f2f2" stroke="#7a7a7a" stroke-width="0.7"/>
<rect x="37.6" y="447" width="71.4" height="71" fill="none" stroke="#111" stroke-width="1.2"/>
<path d="M37.6 452.92h-1.8M37.6 458.83h-1.8M37.6 464.75h-1.8M37.6 470.67h-1.8M37.6 476.58h-1.8M37.6 482.5h-1.8M37.6 488.42h-1.8M37.6 494.33h-1.8M37.6 500.25h-1.8M37.6 506.17h-1.8M37.6 512.08h-1.8M43.55 518v1.8M49.5 518v1.8M55.45 518v1.8M61.4 518v1.8M67.35 518v1.8M73.3 518v1.8M79.25 518v1.8M85.2 518v1.8M91.15 518v1.8M97.1 518v1.8M103.05 518v1.8" stroke="#222" stroke-width="0.9" fill="none"/>
<path d="M62.3 447V518M37.6 486.6H109" stroke="#0a0a0a" stroke-width="1.15" fill="none"/>
<text x="40.9" y="459.6" font-size="12" fill="#000">0.5</text>
<text x="106.7" y="459.6" font-size="12" text-anchor="end" fill="#000">0.3</text>
<text x="106.7" y="513.2" font-size="12" text-anchor="end" fill="#000" stroke="#fff" stroke-width="2.2" paint-order="stroke">2.2</text>
<path d="M125 453.5h1M156 456.5h1M132 458.5h1M142 459.5h1M170 459.5h1M156 461.5h1M166 461.5h1M129 462.5h2M132 462.5h1M134 462.5h1M137 462.5h1M124 463.5h1M135 463.5h1M141 463.5h1M147 463.5h1M179 463.5h1M183 463.5h1M149 464.5h1M175 464.5h1M181 464.5h1M122 465.5h1M128 465.5h1M135 465.5h1M154 465.5h1M161 465.5h1M163 465.5h1M168 465.5h2M124 466.5h1M128 466.5h2M132 466.5h1M134 466.5h1M139 466.5h2M152 466.5h1M157 466.5h1M161 466.5h1M174 466.5h1M178 466.5h1M128 467.5h1M132 467.5h1M184 467.5h1M121 468.5h1M185 469.5h2M189 469.5h1M187 470.5h1M189 471.5h1M122 472.5h1M123 473.5h1M188 475.5h1M120 476.5h1M121 477.5h1M183 487.5h1M184 488.5h1M189 488.5h1M186 489.5h1M184 491.5h2M187 492.5h1M188 494.5h1M188 495.5h1M188 503.5h1M188 506.5h2M188 507.5h1M189 508.5h1M189 509.5h1M188 513.5h1M186 514.5h1M188 514.5h2M184 515.5h1M183 516.5h1" stroke="#a0a0a0" stroke-width="1" fill="none"/>
<path d="M164 466.5h1M166 466.5h1M152 467.5h1M164 467.5h1M169 467.5h1M137 468.5h1M139 468.5h1M142 468.5h1M150 468.5h1M162 468.5h1M165 468.5h1M169 468.5h1M172 468.5h4M177 468.5h2M138 469.5h1M145 469.5h1M155 469.5h1M160 469.5h1M167 469.5h1M171 469.5h1M174 469.5h2M134 470.5h1M142 470.5h1M145 470.5h1M147 470.5h1M149 470.5h3M157 470.5h3M167 470.5h2M175 470.5h1M128 471.5h1M133 471.5h1M136 471.5h2M140 471.5h1M143 471.5h1M145 471.5h2M149 471.5h1M155 471.5h2M158 471.5h1M160 471.5h1M166 471.5h2M172 471.5h2M175 471.5h1M183 471.5h1M129 472.5h1M136 472.5h1M139 472.5h1M141 472.5h1M143 472.5h2M147 472.5h1M149 472.5h2M156 472.5h1M161 472.5h2M169 472.5h4M183 472.5h1M133 473.5h2M136 473.5h1M140 473.5h2M143 473.5h1M152 473.5h1M156 473.5h1M160 473.5h2M163 473.5h1M165 473.5h1M180 473.5h1M185 473.5h1M126 474.5h1M131 474.5h1M133 474.5h1M136 474.5h2M156 474.5h1M159 474.5h1M167 474.5h1M172 474.5h1M175 474.5h1M181 474.5h1M127 475.5h1M130 475.5h1M134 475.5h1M162 475.5h1M164 475.5h1M166 475.5h1M168 475.5h1M173 475.5h1M175 475.5h2M180 475.5h1M182 475.5h1M128 476.5h1M132 476.5h1M166 476.5h1M168 476.5h5M176 476.5h1M131 477.5h1M163 477.5h1M169 477.5h1M172 477.5h1M175 477.5h1M126 478.5h1M128 478.5h1M163 478.5h2M166 478.5h4M172 478.5h1M182 478.5h1M184 478.5h1M167 479.5h2M170 479.5h1M173 479.5h1M175 479.5h1M177 479.5h1M182 479.5h1M185 479.5h1M128 480.5h2M167 480.5h1M169 480.5h1M174 480.5h1M177 480.5h1M182 480.5h2M126 481.5h1M164 481.5h1M168 481.5h1M170 481.5h4M178 481.5h1M181 481.5h2M125 482.5h1M167 482.5h2M171 482.5h1M173 482.5h1M175 482.5h1M177 482.5h1M182 482.5h1M119 483.5h1M127 483.5h1M164 483.5h2M168 483.5h2M172 483.5h1M175 483.5h1M180 483.5h2M121 484.5h1M124 484.5h1M126 484.5h1M161 484.5h1M163 484.5h2M166 484.5h1M168 484.5h1M176 484.5h1M163 485.5h1M168 485.5h1M170 485.5h1M178 485.5h1M160 486.5h4M165 486.5h1M170 486.5h1M176 486.5h1M182 486.5h1M160 487.5h2M164 487.5h1M167 487.5h4M175 487.5h3M181 487.5h1M165 488.5h2M173 488.5h1M180 488.5h1M158 489.5h1M161 489.5h1M163 489.5h1M165 489.5h1M171 489.5h1M174 489.5h3M180 489.5h1M161 490.5h3M167 490.5h2M170 490.5h3M174 490.5h3M179 490.5h2M182 490.5h1M158 491.5h1M162 491.5h2M166 491.5h1M169 491.5h1M176 491.5h1M180 491.5h2M161 492.5h4M168 492.5h2M172 492.5h1M176 492.5h1M179 492.5h1M182 492.5h1M159 493.5h4M164 493.5h1M168 493.5h1M171 493.5h1M176 493.5h1M178 493.5h1M163 494.5h7M172 494.5h1M174 494.5h1M181 494.5h2M161 495.5h3M168 495.5h2M171 495.5h2M177 495.5h1M179 495.5h1M182 495.5h2M169 496.5h2M173 496.5h1M182 496.5h1M174 497.5h4M172 498.5h1M175 498.5h1M182 498.5h2M174 499.5h1M176 499.5h1M184 499.5h2M174 500.5h1M182 500.5h1M174 501.5h2M183 501.5h1M177 502.5h1M179 502.5h1M183 502.5h1M175 503.5h2M178 503.5h1M180 503.5h2M184 503.5h1M176 504.5h1M184 504.5h1M175 505.5h4M187 505.5h1M176 506.5h1M179 506.5h1M181 506.5h1M183 506.5h1M175 507.5h1M178 507.5h1M180 507.5h2M184 507.5h1M187 507.5h1M174 508.5h1M178 508.5h1M182 508.5h1M185 508.5h1M173 509.5h3M178 509.5h2M186 509.5h2M172 510.5h3M180 510.5h1M183 510.5h1M185 510.5h1M170 511.5h4M177 511.5h1M179 511.5h1M182 511.5h1M167 512.5h2M175 512.5h1M161 513.5h2M167 513.5h1M172 513.5h1M183 513.5h1M167 514.5h1M169 514.5h2M178 514.5h1M180 514.5h1M182 514.5h1M184 514.5h1M162 515.5h1M165 515.5h1M167 515.5h2M171 515.5h1M173 515.5h1M175 515.5h1M177 515.5h2M157 516.5h1M159 516.5h2M164 516.5h1M175 516.5h1M177 516.5h1M181 516.5h1" stroke="#707070" stroke-width="1" fill="none"/>
<path d="M144 473.5h2M147 473.5h1M149 473.5h1M139 474.5h1M141 474.5h7M150 474.5h1M152 474.5h1M154 474.5h1M135 475.5h1M137 475.5h1M139 475.5h1M141 475.5h2M144 475.5h3M149 475.5h2M152 475.5h2M136 476.5h11M151 476.5h2M156 476.5h4M133 477.5h4M138 477.5h2M141 477.5h8M150 477.5h3M154 477.5h2M157 477.5h1M159 477.5h1M133 478.5h19M153 478.5h2M156 478.5h3M131 479.5h3M135 479.5h1M137 479.5h2M140 479.5h3M144 479.5h2M147 479.5h7M156 479.5h2M162 479.5h2M133 480.5h3M139 480.5h1M142 480.5h11M154 480.5h1M158 480.5h2M162 480.5h1M130 481.5h2M134 481.5h6M141 481.5h4M146 481.5h5M152 481.5h1M154 481.5h3M158 481.5h1M160 481.5h2M129 482.5h3M133 482.5h6M140 482.5h14M155 482.5h2M161 482.5h2M128 483.5h2M132 483.5h3M136 483.5h15M152 483.5h2M155 483.5h4M161 483.5h1M131 484.5h2M135 484.5h3M140 484.5h9M150 484.5h1M152 484.5h4M158 484.5h2M120 485.5h3M124 485.5h1M126 485.5h26M153 485.5h1M155 485.5h1M158 485.5h1M119 486.5h32M152 486.5h4M158 486.5h1M119 487.5h33M153 487.5h4M158 487.5h1M119 488.5h31M153 488.5h4M119 489.5h35M155 489.5h1M119 490.5h36M157 490.5h1M119 491.5h34M156 491.5h2M119 492.5h36M156 492.5h2M119 493.5h37M157 493.5h1M119 494.5h33M153 494.5h3M158 494.5h1M119 495.5h36M156 495.5h1M160 495.5h1M119 496.5h35M157 496.5h2M161 496.5h1M164 496.5h1M119 497.5h39M162 497.5h1M167 497.5h1M169 497.5h1M119 498.5h37M157 498.5h3M162 498.5h1M167 498.5h4M119 499.5h40M160 499.5h3M165 499.5h1M167 499.5h1M171 499.5h1M119 500.5h37M157 500.5h1M160 500.5h1M162 500.5h1M164 500.5h2M168 500.5h2M119 501.5h35M155 501.5h4M162 501.5h1M165 501.5h2M168 501.5h1M170 501.5h1M173 501.5h1M119 502.5h39M159 502.5h2M162 502.5h2M167 502.5h1M169 502.5h4M174 502.5h1M119 503.5h40M161 503.5h1M163 503.5h2M167 503.5h1M169 503.5h1M172 503.5h1M174 503.5h1M119 504.5h40M163 504.5h3M167 504.5h3M175 504.5h1M119 505.5h39M159 505.5h2M162 505.5h1M167 505.5h3M171 505.5h2M119 506.5h36M156 506.5h2M160 506.5h3M164 506.5h2M169 506.5h1M119 507.5h42M163 507.5h5M169 507.5h1M172 507.5h3M119 508.5h35M155 508.5h1M158 508.5h1M160 508.5h1M163 508.5h1M165 508.5h2M169 508.5h1M171 508.5h3M119 509.5h38M158 509.5h1M170 509.5h2M119 510.5h36M156 510.5h1M158 510.5h1M160 510.5h2M163 510.5h1M165 510.5h1M167 510.5h2M171 510.5h1M119 511.5h35M156 511.5h2M159 511.5h3M163 511.5h1M168 511.5h2M119 512.5h34M154 512.5h3M158 512.5h1M163 512.5h1M165 512.5h1M119 513.5h36M156 513.5h3M119 514.5h33M153 514.5h1M155 514.5h4M119 515.5h32M152 515.5h1M155 515.5h2M119 516.5h33M153 516.5h4" stroke="#000" stroke-width="1" fill="none"/>
<path d="M121.45 517.40V497.00A5.00 5.00 0 0 1 126.45 492.00H138.95A5.00 5.00 0 0 1 143.95 497.00V517.40Z" fill="#dcdcdc" stroke="#5e5e5e" stroke-width="1"/>
<path d="M123.25 517.40V498.20A4.00 4.00 0 0 1 127.25 494.20H138.15A4.00 4.00 0 0 1 142.15 498.20V517.40Z" fill="none" stroke="#7c7c7c" stroke-width="0.75"/>
<path d="M125.45 517.40V500.50A3.00 3.00 0 0 1 128.45 497.50H136.95A3.00 3.00 0 0 1 139.95 500.50V517.40Z" fill="none" stroke="#7c7c7c" stroke-width="0.75"/>
<ellipse cx="132.7" cy="501" rx="1.6" ry="2.8" fill="#f2f2f2" stroke="#7a7a7a" stroke-width="0.7"/>
<rect x="118.75" y="447" width="71.55" height="71" fill="none" stroke="#111" stroke-width="1.2"/>
<path d="M118.75 452.92h-1.8M118.75 458.83h-1.8M118.75 464.75h-1.8M118.75 470.67h-1.8M118.75 476.58h-1.8M118.75 482.5h-1.8M118.75 488.42h-1.8M118.75 494.33h-1.8M118.75 500.25h-1.8M118.75 506.17h-1.8M118.75 512.08h-1.8M124.71 518v1.8M130.68 518v1.8M136.64 518v1.8M142.6 518v1.8M148.56 518v1.8M154.53 518v1.8M160.49 518v1.8M166.45 518v1.8M172.41 518v1.8M178.38 518v1.8M184.34 518v1.8" stroke="#222" stroke-width="0.9" fill="none"/>
<path d="M144.65 447V518M118.75 486.6H190.3" stroke="#0a0a0a" stroke-width="1.15" fill="none"/>
<text x="122.05" y="459.6" font-size="12" fill="#000">1.6</text>
<text x="188" y="459.6" font-size="12" text-anchor="end" fill="#000">1.3</text>
<text x="188" y="513.2" font-size="12" text-anchor="end" fill="#000" stroke="#fff" stroke-width="2.2" paint-order="stroke">5.3</text>
<text x="78" y="360" font-size="12.3" font-weight="bold" text-anchor="middle" fill="#000">PBS (d3)</text>
<text x="157.5" y="360" font-size="12.3" font-weight="bold" text-anchor="middle" fill="#000">LPS (d3)</text>
<text transform="translate(15.1 189.9) rotate(-90)" font-size="15" font-weight="bold" text-anchor="middle" fill="#000">Monensin</text>
<text transform="translate(15.1 268.5) rotate(-90)" font-size="15" font-weight="bold" text-anchor="middle" fill="#000">L+PIM</text>
<text transform="translate(15.1 399.9) rotate(-90)" font-size="15" font-weight="bold" text-anchor="middle" fill="#000">Monensin</text>
<text transform="translate(15.1 482) rotate(-90)" font-size="15" font-weight="bold" text-anchor="middle" fill="#000">L+PIM</text>
<path d="M27.9 166.6V271.8" stroke="#444" stroke-width="1.1"/>
<path d="M27.9 158.6L32.8 171.6L23 171.6Z" fill="#000"/>
<text transform="translate(32.3 290.5) rotate(-90)" font-size="12" text-anchor="middle" fill="#000">IL-10</text>
<text x="37.8" y="320.5" font-size="12" fill="#000">GFP</text>
<path d="M68.5 316.3H182.5" stroke="#444" stroke-width="1.1"/>
<path d="M190.5 316.3L177.5 311.5L177.5 321.1Z" fill="#000"/>
<path d="M27.9 377.7V483" stroke="#444" stroke-width="1.1"/>
<path d="M27.9 369.7L32.8 382.7L23 382.7Z" fill="#000"/>
<text transform="translate(32.3 502.5) rotate(-90)" font-size="12" text-anchor="middle" fill="#000">IL-10</text>
<text x="40" y="532.8" font-size="12" fill="#000">Thy1.1</text>
<path d="M79.5 528.6H182.8" stroke="#444" stroke-width="1.1"/>
<path d="M190.8 528.6L177.8 523.8L177.8 533.4Z" fill="#000"/>
<text x="47.35" y="571.3" font-size="12.3" font-weight="bold" text-anchor="middle" fill="#000">IgM</text>
<path d="M28.19 626.50C28.90 626.01 31.18 625.32 32.42 623.58C33.66 621.84 34.67 619.11 35.66 616.05C36.64 612.99 37.43 609.20 38.32 605.24C39.21 601.29 40.19 595.93 40.98 592.34C41.77 588.74 42.36 586.02 43.07 583.68C43.77 581.34 44.58 579.02 45.21 578.30C45.84 577.58 46.38 578.66 46.83 579.38C47.27 580.09 47.52 581.71 47.87 582.60C48.23 583.50 48.61 582.78 48.97 584.76C49.32 586.74 49.57 591.07 50.01 594.49C50.46 597.90 51.01 601.65 51.63 605.24C52.25 608.84 53.10 612.99 53.72 616.05C54.34 619.11 54.89 621.84 55.34 623.58C55.78 625.32 56.21 626.01 56.38 626.50Z" fill="#686868" stroke="#555" stroke-width="0.5"/>
<path d="M26.05 626.50C26.94 626.37 29.78 626.04 31.38 625.73C32.98 625.42 34.06 625.37 35.66 624.66C37.26 623.94 39.56 622.50 40.98 621.43C42.40 620.35 43.28 619.28 44.17 618.20C45.05 617.13 45.69 616.41 46.31 614.98C46.92 613.54 47.34 611.58 47.87 609.60C48.40 607.62 48.96 605.61 49.49 603.09C50.02 600.57 50.61 597.36 51.06 594.49C51.50 591.61 51.80 588.18 52.15 585.83C52.51 583.48 52.84 581.66 53.20 580.40C53.55 579.15 53.94 578.30 54.29 578.30C54.65 578.30 55.08 578.97 55.34 580.40C55.60 581.84 55.68 583.66 55.86 586.91C56.03 590.15 56.11 595.37 56.38 599.87C56.65 604.36 57.12 609.95 57.48 613.90C57.83 617.85 58.16 621.48 58.52 623.58C58.88 625.68 59.43 626.01 59.62 626.50" fill="none" stroke="#0a0a0a" stroke-width="0.95" stroke-linejoin="round"/>
<rect x="21.25" y="574.5" width="52.2" height="52" fill="none" stroke="#222" stroke-width="1.05"/>
<path d="M21.25 582.5h1.5M21.25 590.5h1.5M21.25 598.5h1.5M21.25 606.5h1.5M21.25 614.5h1.5M21.25 622.5h1.5M25.6 626.5v-1.3M29.95 626.5v-1.3M34.3 626.5v-1.3M38.65 626.5v-1.3M43 626.5v-1.3M47.35 626.5v-1.3M51.7 626.5v-1.3M56.05 626.5v-1.3M60.4 626.5v-1.3M64.75 626.5v-1.3M69.1 626.5v-1.3" stroke="#555" stroke-width="0.6"/>
<path d="M25.16 682.50C25.71 681.48 27.34 679.51 28.43 676.35C29.52 673.20 30.60 668.24 31.69 663.55C32.78 658.85 33.87 652.54 34.95 648.18C36.04 643.83 37.31 639.65 38.22 637.43C39.12 635.21 39.69 634.87 40.41 634.87C41.13 634.87 41.83 635.89 42.55 637.43C43.27 638.96 44.01 641.57 44.74 644.09C45.47 646.60 46.21 649.29 46.93 652.54C47.65 655.78 48.35 660.26 49.07 663.55C49.79 666.84 50.53 669.75 51.27 672.26C52.00 674.77 52.74 676.90 53.46 678.61C54.18 680.31 55.24 681.85 55.60 682.50Z" fill="#686868" stroke="#555" stroke-width="0.5"/>
<path d="M27.36 682.50C28.44 682.03 31.89 681.05 33.88 679.68C35.87 678.32 37.87 676.14 39.31 674.30C40.76 672.47 41.64 670.85 42.55 668.67C43.45 666.49 44.09 663.93 44.74 661.24C45.39 658.55 45.99 655.40 46.46 652.54C46.93 649.68 47.19 646.43 47.56 644.09C47.92 641.74 48.29 639.73 48.66 638.45C49.02 637.17 49.39 636.91 49.75 636.40C50.12 635.89 50.53 635.04 50.85 635.38C51.17 635.72 51.43 636.32 51.68 638.45C51.93 640.58 52.14 644.38 52.36 648.18C52.58 651.98 52.74 657.23 52.99 661.24C53.24 665.26 53.51 669.36 53.88 672.26C54.24 675.15 54.53 677.26 55.18 678.61C55.83 679.96 56.81 679.99 57.79 680.35C58.77 680.71 59.97 680.51 61.05 680.76C62.14 681.01 63.41 681.54 64.31 681.83C65.22 682.12 66.14 682.39 66.51 682.50" fill="none" stroke="#0a0a0a" stroke-width="0.95" stroke-linejoin="round"/>
<rect x="21.25" y="630.5" width="52.2" height="52" fill="none" stroke="#222" stroke-width="1.05"/>
<path d="M21.25 638.5h1.5M21.25 646.5h1.5M21.25 654.5h1.5M21.25 662.5h1.5M21.25 670.5h1.5M21.25 678.5h1.5M25.6 682.5v-1.3M29.95 682.5v-1.3M34.3 682.5v-1.3M38.65 682.5v-1.3M43 682.5v-1.3M47.35 682.5v-1.3M51.7 682.5v-1.3M56.05 682.5v-1.3M60.4 682.5v-1.3M64.75 682.5v-1.3M69.1 682.5v-1.3" stroke="#555" stroke-width="0.6"/>
<path d="M26.26 739.00C26.80 738.27 28.41 736.64 29.50 734.65C30.59 732.65 31.70 730.10 32.79 727.01C33.87 723.92 34.94 719.74 36.02 716.10C37.11 712.47 38.29 708.46 39.31 705.19C40.33 701.93 41.29 698.84 42.13 696.49C42.97 694.13 43.70 692.14 44.32 691.06C44.94 689.97 45.33 689.80 45.84 689.98C46.34 690.16 46.88 690.68 47.35 692.13C47.82 693.58 48.19 695.78 48.66 698.69C49.12 701.60 49.66 705.60 50.17 709.60C50.67 713.59 51.13 718.67 51.68 722.66C52.23 726.66 52.87 730.85 53.46 733.57C54.04 736.29 54.89 738.10 55.18 739.00Z" fill="#686868" stroke="#555" stroke-width="0.5"/>
<path d="M27.36 739.00C28.08 738.83 30.25 738.70 31.69 737.98C33.13 737.25 34.75 735.75 36.02 734.65C37.29 733.55 38.29 732.64 39.31 731.37C40.33 730.10 41.41 728.47 42.13 727.01C42.85 725.56 43.14 724.48 43.64 722.66C44.15 720.84 44.69 718.65 45.16 716.10C45.63 713.56 46.06 710.30 46.46 707.40C46.86 704.49 47.19 700.87 47.56 698.69C47.92 696.51 48.29 694.34 48.66 694.34C49.02 694.34 49.39 699.24 49.75 698.69C50.12 698.14 50.53 692.51 50.85 691.06C51.17 689.61 51.36 689.62 51.68 689.98C52.00 690.34 52.48 691.76 52.78 693.21C53.07 694.66 53.24 695.96 53.46 698.69C53.67 701.42 53.83 705.60 54.08 709.60C54.34 713.59 54.64 718.67 54.97 722.66C55.30 726.66 55.67 730.85 56.07 733.57C56.47 736.29 57.15 738.10 57.37 739.00" fill="none" stroke="#0a0a0a" stroke-width="0.95" stroke-linejoin="round"/>
<rect x="21.25" y="687" width="52.2" height="52" fill="none" stroke="#222" stroke-width="1.05"/>
<path d="M21.25 695h1.5M21.25 703h1.5M21.25 711h1.5M21.25 719h1.5M21.25 727h1.5M21.25 735h1.5M25.6 739v-1.3M29.95 739v-1.3M34.3 739v-1.3M38.65 739v-1.3M43 739v-1.3M47.35 739v-1.3M51.7 739v-1.3M56.05 739v-1.3M60.4 739v-1.3M64.75 739v-1.3M69.1 739v-1.3" stroke="#555" stroke-width="0.6"/>
<text x="103.1" y="571.3" font-size="12.3" font-weight="bold" text-anchor="middle" fill="#000">CD1d</text>
<path d="M81.80 626.50C82.09 624.79 82.99 620.87 83.53 616.26C84.06 611.65 84.53 603.96 85.04 598.84C85.54 593.72 86.00 588.85 86.55 585.52C87.10 582.19 87.74 578.87 88.33 578.87C88.91 578.87 89.61 582.19 90.05 585.52C90.48 588.85 90.57 594.49 90.94 598.84C91.30 603.19 91.77 608.06 92.24 611.65C92.71 615.23 93.14 617.96 93.76 620.35C94.37 622.74 95.58 625.05 95.95 625.99Z" fill="#686868" stroke="#555" stroke-width="0.5"/>
<path d="M81.33 626.50C81.59 624.79 82.25 620.87 82.87 616.26C83.49 611.65 84.31 604.30 85.04 598.84C85.77 593.38 86.61 586.72 87.23 583.48C87.85 580.23 88.28 579.72 88.75 579.38C89.21 579.04 89.58 581.26 90.05 581.43C90.52 581.60 91.06 580.83 91.56 580.40C92.07 579.98 92.61 578.35 93.08 578.87C93.55 579.38 94.02 581.26 94.38 583.48C94.75 585.69 94.94 588.94 95.27 592.18C95.60 595.43 95.97 599.69 96.37 602.94C96.77 606.18 97.20 609.43 97.67 611.65C98.14 613.87 98.65 614.63 99.19 616.26C99.72 617.88 100.36 619.76 100.91 621.38C101.45 623.00 102.19 625.22 102.45 625.99" fill="none" stroke="#0a0a0a" stroke-width="0.95" stroke-linejoin="round"/>
<rect x="77" y="574.5" width="52.2" height="52" fill="none" stroke="#222" stroke-width="1.05"/>
<path d="M77 582.5h1.5M77 590.5h1.5M77 598.5h1.5M77 606.5h1.5M77 614.5h1.5M77 622.5h1.5M81.35 626.5v-1.3M85.7 626.5v-1.3M90.05 626.5v-1.3M94.4 626.5v-1.3M98.75 626.5v-1.3M103.1 626.5v-1.3M107.45 626.5v-1.3M111.8 626.5v-1.3M116.15 626.5v-1.3M120.5 626.5v-1.3M124.85 626.5v-1.3" stroke="#555" stroke-width="0.6"/>
<path d="M81.33 682.50C81.63 680.79 82.56 676.87 83.11 672.26C83.66 667.65 84.12 659.96 84.62 654.84C85.13 649.72 85.67 644.77 86.14 641.52C86.60 638.28 86.97 635.38 87.44 635.38C87.91 635.38 88.45 637.94 88.95 641.52C89.46 645.11 89.92 651.77 90.47 656.89C91.02 662.01 91.59 668.28 92.24 672.26C92.89 676.23 93.84 679.05 94.38 680.76C94.92 682.47 95.30 682.21 95.48 682.50Z" fill="#686868" stroke="#555" stroke-width="0.5"/>
<path d="M80.92 682.50C81.28 680.79 82.49 676.87 83.11 672.26C83.73 667.65 84.12 659.96 84.62 654.84C85.13 649.72 85.60 644.77 86.14 641.52C86.67 638.28 87.31 635.72 87.86 635.38C88.40 635.04 88.92 639.13 89.40 639.48C89.87 639.82 90.23 638.11 90.70 637.43C91.18 636.74 91.81 634.69 92.24 635.38C92.68 636.06 92.96 638.66 93.31 641.52C93.67 644.38 94.02 648.52 94.38 652.54C94.74 656.55 95.11 661.97 95.48 665.60C95.84 669.23 96.11 671.96 96.58 674.30C97.04 676.65 97.75 678.32 98.30 679.68C98.84 681.05 99.58 682.03 99.84 682.50" fill="none" stroke="#0a0a0a" stroke-width="0.95" stroke-linejoin="round"/>
<rect x="77" y="630.5" width="52.2" height="52" fill="none" stroke="#222" stroke-width="1.05"/>
<path d="M77 638.5h1.5M77 646.5h1.5M77 654.5h1.5M77 662.5h1.5M77 670.5h1.5M77 678.5h1.5M81.35 682.5v-1.3M85.7 682.5v-1.3M90.05 682.5v-1.3M94.4 682.5v-1.3M98.75 682.5v-1.3M103.1 682.5v-1.3M107.45 682.5v-1.3M111.8 682.5v-1.3M116.15 682.5v-1.3M120.5 682.5v-1.3M124.85 682.5v-1.3" stroke="#555" stroke-width="0.6"/>
<path d="M81.33 739.00C81.63 737.38 82.56 733.45 83.11 729.27C83.66 725.09 84.12 718.64 84.62 713.90C85.13 709.16 85.60 704.47 86.14 700.84C86.67 697.21 87.31 693.94 87.86 692.13C88.40 690.32 88.92 689.62 89.40 689.98C89.87 690.35 90.23 691.80 90.70 694.34C91.18 696.87 91.73 700.84 92.24 705.19C92.75 709.55 93.22 715.92 93.76 720.46C94.30 725.00 94.83 729.35 95.48 732.44C96.13 735.53 97.31 737.91 97.67 739.00Z" fill="#686868" stroke="#555" stroke-width="0.5"/>
<path d="M81.33 739.00C81.70 737.00 82.87 731.56 83.53 727.01C84.18 722.47 84.70 716.47 85.25 711.75C85.79 707.03 86.27 701.96 86.79 698.69C87.30 695.42 87.78 693.53 88.33 692.13C88.87 690.74 89.40 690.70 90.05 690.34C90.70 689.98 91.52 689.86 92.24 689.98C92.96 690.10 93.84 689.97 94.38 691.06C94.92 692.14 95.11 694.13 95.48 696.49C95.84 698.84 96.21 702.29 96.58 705.19C96.94 708.10 97.31 710.99 97.67 713.90C98.04 716.81 98.30 719.75 98.77 722.66C99.24 725.57 99.95 729.01 100.49 731.37C101.03 733.72 101.50 735.53 102.00 736.80C102.51 738.07 103.27 738.63 103.52 739.00" fill="none" stroke="#0a0a0a" stroke-width="0.95" stroke-linejoin="round"/>
<rect x="77" y="687" width="52.2" height="52" fill="none" stroke="#222" stroke-width="1.05"/>
<path d="M77 695h1.5M77 703h1.5M77 711h1.5M77 719h1.5M77 727h1.5M77 735h1.5M81.35 739v-1.3M85.7 739v-1.3M90.05 739v-1.3M94.4 739v-1.3M98.75 739v-1.3M103.1 739v-1.3M107.45 739v-1.3M111.8 739v-1.3M116.15 739v-1.3M120.5 739v-1.3M124.85 739v-1.3" stroke="#555" stroke-width="0.6"/>
<text x="158.1" y="571.3" font-size="12.3" font-weight="bold" text-anchor="middle" fill="#000">CD5</text>
<path d="M134.82 626.50C135.07 624.79 135.82 620.87 136.33 616.26C136.84 611.65 137.40 603.96 137.87 598.84C138.35 593.72 138.78 588.77 139.18 585.52C139.57 582.28 139.81 579.72 140.25 579.38C140.68 579.04 141.35 581.00 141.79 583.48C142.22 585.95 142.42 590.22 142.86 594.23C143.29 598.24 143.85 603.54 144.40 607.55C144.95 611.56 145.49 615.40 146.15 618.30C146.80 621.21 147.59 623.60 148.31 624.96C149.03 626.33 150.12 626.24 150.48 626.50Z" fill="#686868" stroke="#555" stroke-width="0.5"/>
<path d="M134.19 626.50C134.55 624.79 135.61 621.25 136.33 616.26C137.05 611.26 137.87 602.34 138.53 596.54C139.18 590.73 139.70 584.29 140.25 581.43C140.79 578.57 141.35 579.04 141.79 579.38C142.22 579.72 142.38 583.13 142.86 583.48C143.33 583.82 144.08 582.11 144.63 581.43C145.18 580.74 145.64 578.87 146.15 579.38C146.65 579.89 147.12 582.88 147.66 584.50C148.20 586.12 148.80 587.49 149.38 589.11C149.97 590.73 150.61 592.27 151.16 594.23C151.71 596.19 152.17 598.67 152.67 600.89C153.18 603.11 153.65 605.76 154.19 607.55C154.72 609.34 155.44 610.62 155.91 611.65C156.38 612.67 156.57 612.41 157.00 613.70C157.44 614.98 157.97 617.45 158.52 619.33C159.07 621.21 159.64 623.77 160.29 624.96C160.94 626.16 162.08 626.24 162.43 626.50" fill="none" stroke="#0a0a0a" stroke-width="0.95" stroke-linejoin="round"/>
<rect x="132" y="574.5" width="52.2" height="52" fill="none" stroke="#222" stroke-width="1.05"/>
<path d="M132 582.5h1.5M132 590.5h1.5M132 598.5h1.5M132 606.5h1.5M132 614.5h1.5M132 622.5h1.5M136.35 626.5v-1.3M140.7 626.5v-1.3M145.05 626.5v-1.3M149.4 626.5v-1.3M153.75 626.5v-1.3M158.1 626.5v-1.3M162.45 626.5v-1.3M166.8 626.5v-1.3M171.15 626.5v-1.3M175.5 626.5v-1.3M179.85 626.5v-1.3" stroke="#555" stroke-width="0.6"/>
<path d="M133.10 682.50C133.35 680.79 134.07 676.52 134.61 672.26C135.15 667.99 135.68 661.59 136.33 656.89C136.99 652.19 137.79 647.33 138.53 644.09C139.26 640.84 140.06 638.88 140.72 637.43C141.37 635.98 141.90 635.21 142.44 635.38C142.98 635.55 143.45 636.32 143.95 638.45C144.46 640.58 144.92 644.38 145.47 648.18C146.02 651.98 146.66 657.23 147.24 661.24C147.83 665.26 148.24 669.18 148.97 672.26C149.69 675.33 150.77 677.98 151.57 679.68C152.38 681.39 153.40 682.03 153.77 682.50Z" fill="#686868" stroke="#555" stroke-width="0.5"/>
<path d="M133.10 682.50C133.64 681.48 135.25 678.83 136.33 676.35C137.42 673.88 138.71 670.89 139.62 667.65C140.53 664.40 141.13 660.48 141.79 656.89C142.44 653.30 142.99 648.69 143.54 646.13C144.08 643.57 144.51 642.98 145.05 641.52C145.59 640.07 146.23 638.45 146.77 637.43C147.32 636.40 147.80 635.55 148.31 635.38C148.83 635.21 149.38 635.55 149.85 636.40C150.33 637.26 150.69 638.88 151.16 640.50C151.63 642.12 152.17 644.13 152.67 646.13C153.18 648.14 153.65 650.40 154.19 652.54C154.72 654.67 155.32 657.10 155.91 658.94C156.49 660.77 157.13 662.27 157.68 663.55C158.23 664.83 158.69 665.56 159.20 666.62C159.70 667.68 160.24 668.79 160.71 669.90C161.18 671.01 161.55 671.83 162.01 673.28C162.48 674.73 163.02 677.07 163.53 678.61C164.03 680.14 164.79 681.85 165.04 682.50" fill="none" stroke="#0a0a0a" stroke-width="0.95" stroke-linejoin="round"/>
<rect x="132" y="630.5" width="52.2" height="52" fill="none" stroke="#222" stroke-width="1.05"/>
<path d="M132 638.5h1.5M132 646.5h1.5M132 654.5h1.5M132 662.5h1.5M132 670.5h1.5M132 678.5h1.5M136.35 682.5v-1.3M140.7 682.5v-1.3M145.05 682.5v-1.3M149.4 682.5v-1.3M153.75 682.5v-1.3M158.1 682.5v-1.3M162.45 682.5v-1.3M166.8 682.5v-1.3M171.15 682.5v-1.3M175.5 682.5v-1.3M179.85 682.5v-1.3" stroke="#555" stroke-width="0.6"/>
<path d="M134.19 739.00C134.48 737.38 135.38 733.45 135.91 729.27C136.45 725.09 136.92 719.00 137.43 713.90C137.93 708.81 138.47 702.50 138.94 698.69C139.41 694.88 139.88 692.51 140.25 691.06C140.61 689.61 140.77 689.44 141.13 689.98C141.50 690.53 141.97 691.43 142.44 694.34C142.91 697.24 143.45 703.04 143.95 707.40C144.46 711.75 144.92 716.46 145.47 720.46C146.02 724.45 146.59 728.65 147.24 731.37C147.89 734.09 148.66 735.53 149.38 736.80C150.10 738.07 151.21 738.63 151.57 739.00Z" fill="#686868" stroke="#555" stroke-width="0.5"/>
<path d="M134.19 739.00C134.55 737.38 135.61 733.45 136.33 729.27C137.05 725.09 137.87 718.64 138.53 713.90C139.18 709.16 139.70 704.10 140.25 700.84C140.79 697.58 141.27 695.79 141.79 694.34C142.30 692.88 142.93 692.13 143.33 692.13C143.72 692.13 143.88 694.52 144.16 694.34C144.45 694.16 144.68 691.43 145.05 691.06C145.42 690.69 145.99 690.86 146.35 692.13C146.72 693.41 146.92 697.79 147.24 698.69C147.57 699.59 147.96 697.15 148.31 697.51C148.67 697.87 149.02 699.19 149.38 700.84C149.74 702.49 150.11 705.58 150.48 707.40C150.84 709.22 151.21 710.67 151.57 711.75C151.94 712.84 152.24 712.81 152.67 713.90C153.11 714.99 153.72 717.03 154.19 718.31C154.65 719.59 155.12 720.86 155.49 721.59C155.86 722.31 156.01 722.30 156.38 722.66C156.74 723.02 157.33 724.10 157.68 723.74C158.04 723.37 158.27 720.82 158.52 720.46C158.77 720.10 158.98 720.12 159.20 721.59C159.41 723.05 159.57 726.91 159.82 729.27C160.07 731.62 160.34 734.21 160.71 735.72C161.08 737.23 161.55 737.79 162.01 738.33C162.48 738.88 163.28 738.89 163.53 739.00" fill="none" stroke="#0a0a0a" stroke-width="0.95" stroke-linejoin="round"/>
<rect x="132" y="687" width="52.2" height="52" fill="none" stroke="#222" stroke-width="1.05"/>
<path d="M132 695h1.5M132 703h1.5M132 711h1.5M132 719h1.5M132 727h1.5M132 735h1.5M136.35 739v-1.3M140.7 739v-1.3M145.05 739v-1.3M149.4 739v-1.3M153.75 739v-1.3M158.1 739v-1.3M162.45 739v-1.3M166.8 739v-1.3M171.15 739v-1.3M175.5 739v-1.3M179.85 739v-1.3" stroke="#555" stroke-width="0.6"/>
<text x="213.6" y="571.3" font-size="12.3" font-weight="bold" text-anchor="middle" fill="#000">CD19</text>
<path d="M213.91 626.50C214.17 624.79 214.96 621.63 215.43 616.26C215.90 610.88 216.27 600.38 216.73 594.23C217.19 588.09 217.77 582.07 218.19 579.38C218.62 576.69 218.92 577.07 219.29 578.10C219.66 579.12 220.03 581.04 220.39 585.52C220.74 590.01 221.07 599.18 221.43 604.99C221.79 610.79 222.17 616.77 222.53 620.35C222.88 623.94 223.40 625.48 223.57 626.50Z" fill="#686868" stroke="#555" stroke-width="0.5"/>
<path d="M212.40 626.50C212.83 624.79 214.32 621.63 215.01 616.26C215.70 610.88 216.06 600.04 216.52 594.23C216.98 588.43 217.38 584.12 217.78 581.43C218.17 578.74 218.44 578.44 218.87 578.10C219.31 577.76 219.96 577.37 220.39 579.38C220.81 581.38 221.04 585.44 221.43 590.13C221.82 594.83 222.30 602.51 222.74 607.55C223.17 612.59 223.54 617.20 224.04 620.35C224.54 623.51 225.48 625.48 225.76 626.50" fill="none" stroke="#0a0a0a" stroke-width="0.95" stroke-linejoin="round"/>
<rect x="187.5" y="574.5" width="52.2" height="52" fill="none" stroke="#222" stroke-width="1.05"/>
<path d="M187.5 582.5h1.5M187.5 590.5h1.5M187.5 598.5h1.5M187.5 606.5h1.5M187.5 614.5h1.5M187.5 622.5h1.5M191.85 626.5v-1.3M196.2 626.5v-1.3M200.55 626.5v-1.3M204.9 626.5v-1.3M209.25 626.5v-1.3M213.6 626.5v-1.3M217.95 626.5v-1.3M222.3 626.5v-1.3M226.65 626.5v-1.3M231 626.5v-1.3M235.35 626.5v-1.3" stroke="#555" stroke-width="0.6"/>
<path d="M214.91 682.50C215.26 681.13 216.51 677.85 217.05 674.30C217.58 670.76 217.78 665.94 218.14 661.24C218.50 656.55 218.83 650.27 219.19 646.13C219.54 641.99 219.92 638.19 220.28 636.40C220.65 634.61 221.02 634.52 221.38 635.38C221.73 636.23 222.07 637.60 222.42 641.52C222.78 645.45 223.15 653.13 223.52 658.94C223.88 664.74 224.26 672.43 224.61 676.35C224.97 680.28 225.48 681.48 225.66 682.50Z" fill="#686868" stroke="#555" stroke-width="0.5"/>
<path d="M213.81 682.50C214.24 681.13 215.77 677.85 216.42 674.30C217.07 670.76 217.33 665.94 217.72 661.24C218.12 656.55 218.41 650.27 218.77 646.13C219.12 641.99 219.54 638.28 219.86 636.40C220.19 634.52 220.34 634.69 220.70 634.87C221.06 635.04 221.60 637.34 222.00 637.43C222.40 637.51 222.74 634.27 223.10 635.38C223.46 636.49 223.79 639.77 224.14 644.09C224.50 648.40 224.88 655.87 225.24 661.24C225.61 666.62 226.01 672.81 226.34 676.35C226.66 679.90 227.03 681.48 227.17 682.50" fill="none" stroke="#0a0a0a" stroke-width="0.95" stroke-linejoin="round"/>
<rect x="187.5" y="630.5" width="52.2" height="52" fill="none" stroke="#222" stroke-width="1.05"/>
<path d="M187.5 638.5h1.5M187.5 646.5h1.5M187.5 654.5h1.5M187.5 662.5h1.5M187.5 670.5h1.5M187.5 678.5h1.5M191.85 682.5v-1.3M196.2 682.5v-1.3M200.55 682.5v-1.3M204.9 682.5v-1.3M209.25 682.5v-1.3M213.6 682.5v-1.3M217.95 682.5v-1.3M222.3 682.5v-1.3M226.65 682.5v-1.3M231 682.5v-1.3M235.35 682.5v-1.3" stroke="#555" stroke-width="0.6"/>
<path d="M214.23 739.00C214.44 737.73 215.13 734.82 215.53 731.37C215.93 727.92 216.26 723.03 216.63 718.31C216.99 713.59 217.40 707.23 217.72 703.04C218.05 698.86 218.27 695.21 218.56 693.21C218.85 691.21 219.16 690.87 219.45 691.06C219.73 691.25 219.96 691.25 220.28 694.34C220.60 697.43 221.02 704.15 221.38 709.60C221.73 715.05 222.07 722.48 222.42 727.01C222.78 731.55 223.15 734.80 223.52 736.80C223.88 738.80 224.43 738.63 224.61 739.00Z" fill="#686868" stroke="#555" stroke-width="0.5"/>
<path d="M209.48 739.00C209.66 738.27 210.14 735.92 210.57 734.65C211.01 733.37 211.55 732.26 212.09 731.37C212.63 730.47 213.23 730.17 213.81 729.27C214.38 728.36 214.99 728.86 215.53 725.94C216.07 723.02 216.61 716.66 217.05 711.75C217.48 706.84 217.82 699.94 218.14 696.49C218.46 693.04 218.62 691.96 218.98 691.06C219.33 690.15 219.88 689.79 220.28 691.06C220.68 692.33 221.02 695.60 221.38 698.69C221.73 701.78 222.07 705.60 222.42 709.60C222.78 713.59 223.15 718.49 223.52 722.66C223.88 726.84 224.26 731.92 224.61 734.65C224.97 737.37 225.48 738.27 225.66 739.00" fill="none" stroke="#0a0a0a" stroke-width="0.95" stroke-linejoin="round"/>
<rect x="187.5" y="687" width="52.2" height="52" fill="none" stroke="#222" stroke-width="1.05"/>
<path d="M187.5 695h1.5M187.5 703h1.5M187.5 711h1.5M187.5 719h1.5M187.5 727h1.5M187.5 735h1.5M191.85 739v-1.3M196.2 739v-1.3M200.55 739v-1.3M204.9 739v-1.3M209.25 739v-1.3M213.6 739v-1.3M217.95 739v-1.3M222.3 739v-1.3M226.65 739v-1.3M231 739v-1.3M235.35 739v-1.3" stroke="#555" stroke-width="0.6"/>
<text x="269.35" y="571.3" font-size="12.3" font-weight="bold" text-anchor="middle" fill="#000">CD23</text>
<path d="M246.90 626.50C247.44 625.48 248.88 622.06 250.14 620.35C251.40 618.65 252.85 617.54 254.47 616.26C256.09 614.98 258.24 614.12 259.85 612.67C261.46 611.22 263.05 610.24 264.13 607.55C265.21 604.86 265.67 600.55 266.32 596.54C266.97 592.52 267.51 586.55 268.05 583.48C268.58 580.40 269.02 578.10 269.56 578.10C270.10 578.10 270.74 580.40 271.28 583.48C271.82 586.55 272.36 592.18 272.80 596.54C273.23 600.89 273.53 605.63 273.89 609.60C274.25 613.57 274.58 617.54 274.94 620.35C275.29 623.17 275.85 625.48 276.03 626.50Z" fill="#686868" stroke="#555" stroke-width="0.5"/>
<path d="M244.14 626.50C244.42 625.82 245.22 624.88 245.86 622.40C246.50 619.93 247.36 615.23 248.00 611.65C248.64 608.06 249.18 604.13 249.72 600.89C250.26 597.65 250.63 594.74 251.24 592.18C251.85 589.62 252.77 587.15 253.38 585.52C253.99 583.90 254.35 583.30 254.89 582.45C255.43 581.60 256.04 580.91 256.61 580.40C257.19 579.89 257.80 578.18 258.34 579.38C258.88 580.57 259.35 585.10 259.85 587.57C260.35 590.05 260.82 592.01 261.36 594.23C261.90 596.45 262.44 599.05 263.09 600.89C263.73 602.73 264.50 603.79 265.23 605.24C265.95 606.69 266.63 608.36 267.42 609.60C268.21 610.84 269.08 611.56 269.98 612.67C270.87 613.78 271.79 614.80 272.80 616.26C273.80 617.71 274.77 620.14 276.03 621.38C277.29 622.62 278.93 622.94 280.36 623.68C281.80 624.43 283.57 625.36 284.64 625.83C285.72 626.30 286.47 626.39 286.84 626.50" fill="none" stroke="#0a0a0a" stroke-width="0.95" stroke-linejoin="round"/>
<rect x="243.25" y="574.5" width="52.2" height="52" fill="none" stroke="#222" stroke-width="1.05"/>
<path d="M243.25 582.5h1.5M243.25 590.5h1.5M243.25 598.5h1.5M243.25 606.5h1.5M243.25 614.5h1.5M243.25 622.5h1.5M247.6 626.5v-1.3M251.95 626.5v-1.3M256.3 626.5v-1.3M260.65 626.5v-1.3M265 626.5v-1.3M269.35 626.5v-1.3M273.7 626.5v-1.3M278.05 626.5v-1.3M282.4 626.5v-1.3M286.75 626.5v-1.3M291.1 626.5v-1.3" stroke="#555" stroke-width="0.6"/>
<path d="M245.44 682.50C245.92 681.48 247.29 678.66 248.31 676.35C249.34 674.05 250.62 670.63 251.60 668.67C252.59 666.71 253.48 665.43 254.21 664.57C254.94 663.72 255.33 663.38 255.99 663.55C256.65 663.72 257.27 664.74 258.18 665.60C259.09 666.45 260.55 669.01 261.47 668.67C262.38 668.33 263.04 666.24 263.66 663.55C264.28 660.86 264.63 656.21 265.17 652.54C265.72 648.87 266.37 644.21 266.95 641.52C267.53 638.83 268.12 637.64 268.67 636.40C269.22 635.16 269.72 633.93 270.24 634.10C270.75 634.27 271.20 634.74 271.75 637.43C272.30 640.12 272.98 645.54 273.53 650.23C274.07 654.93 274.49 660.87 275.04 665.60C275.59 670.33 276.27 675.79 276.81 678.61C277.36 681.42 278.08 681.85 278.33 682.50Z" fill="#686868" stroke="#555" stroke-width="0.5"/>
<path d="M247.22 682.50C247.50 681.48 248.39 679.17 248.94 676.35C249.49 673.54 250.06 669.18 250.51 665.60C250.95 662.01 251.24 658.09 251.60 654.84C251.97 651.60 252.33 648.69 252.70 646.13C253.06 643.57 253.32 641.10 253.79 639.48C254.26 637.85 254.97 637.08 255.52 636.40C256.07 635.72 256.57 634.87 257.08 635.38C257.60 635.89 258.13 637.34 258.60 639.48C259.07 641.61 259.54 644.94 259.90 648.18C260.27 651.43 260.46 655.69 260.79 658.94C261.12 662.18 261.41 665.43 261.89 667.65C262.36 669.87 263.00 671.15 263.66 672.26C264.32 673.37 265.12 673.79 265.85 674.30C266.58 674.82 267.13 674.82 268.05 675.33C268.96 675.84 270.24 676.65 271.33 677.38C272.43 678.10 273.53 678.94 274.62 679.68C275.72 680.43 277.18 681.36 277.91 681.83C278.64 682.30 278.82 682.39 279.01 682.50" fill="none" stroke="#0a0a0a" stroke-width="0.95" stroke-linejoin="round"/>
<rect x="243.25" y="630.5" width="52.2" height="52" fill="none" stroke="#222" stroke-width="1.05"/>
<path d="M243.25 638.5h1.5M243.25 646.5h1.5M243.25 654.5h1.5M243.25 662.5h1.5M243.25 670.5h1.5M243.25 678.5h1.5M247.6 682.5v-1.3M251.95 682.5v-1.3M256.3 682.5v-1.3M260.65 682.5v-1.3M265 682.5v-1.3M269.35 682.5v-1.3M273.7 682.5v-1.3M278.05 682.5v-1.3M282.4 682.5v-1.3M286.75 682.5v-1.3M291.1 682.5v-1.3" stroke="#555" stroke-width="0.6"/>
<path d="M245.44 739.00C246.10 738.45 248.02 736.81 249.41 735.72C250.80 734.63 252.33 733.35 253.79 732.44C255.26 731.54 256.90 731.20 258.18 730.29C259.46 729.39 260.55 728.65 261.47 727.01C262.38 725.38 263.04 723.36 263.66 720.46C264.28 717.56 264.70 712.87 265.17 709.60C265.64 706.33 266.00 703.57 266.48 700.84C266.96 698.11 267.60 694.84 268.05 693.21C268.49 691.58 268.71 690.51 269.14 691.06C269.58 691.60 270.11 693.40 270.65 696.49C271.20 699.58 271.88 705.24 272.43 709.60C272.98 713.96 273.40 718.67 273.94 722.66C274.49 726.66 275.14 730.85 275.72 733.57C276.30 736.29 277.15 738.10 277.44 739.00Z" fill="#686868" stroke="#555" stroke-width="0.5"/>
<path d="M243.93 739.00C244.03 737.38 244.19 731.99 244.56 729.27C244.92 726.55 245.61 725.22 246.12 722.66C246.63 720.10 247.09 716.81 247.63 713.90C248.18 710.99 248.83 707.73 249.41 705.19C249.99 702.66 250.58 700.50 251.13 698.69C251.68 696.88 252.18 695.61 252.70 694.34C253.21 693.06 253.74 691.06 254.21 691.06C254.68 691.06 255.04 693.61 255.52 694.34C256.00 695.06 256.57 694.69 257.08 695.41C257.60 696.14 258.13 697.42 258.60 698.69C259.07 699.96 259.50 701.59 259.90 703.04C260.30 704.49 260.63 705.95 261.00 707.40C261.36 708.85 261.65 710.67 262.09 711.75C262.54 712.84 263.15 713.18 263.66 713.90C264.17 714.63 264.63 715.56 265.17 716.10C265.72 716.65 266.29 716.45 266.95 717.18C267.61 717.91 268.41 719.00 269.14 720.46C269.87 721.92 270.60 724.12 271.33 725.94C272.06 727.76 272.80 729.92 273.53 731.37C274.26 732.82 274.80 733.84 275.72 734.65C276.63 735.45 277.91 735.64 279.01 736.18C280.10 736.73 281.02 737.45 282.30 737.92C283.57 738.39 285.95 738.82 286.68 739.00" fill="none" stroke="#0a0a0a" stroke-width="0.95" stroke-linejoin="round"/>
<rect x="243.25" y="687" width="52.2" height="52" fill="none" stroke="#222" stroke-width="1.05"/>
<path d="M243.25 695h1.5M243.25 703h1.5M243.25 711h1.5M243.25 719h1.5M243.25 727h1.5M243.25 735h1.5M247.6 739v-1.3M251.95 739v-1.3M256.3 739v-1.3M260.65 739v-1.3M265 739v-1.3M269.35 739v-1.3M273.7 739v-1.3M278.05 739v-1.3M282.4 739v-1.3M286.75 739v-1.3M291.1 739v-1.3" stroke="#555" stroke-width="0.6"/>
<text x="325.6" y="571.3" font-size="12.3" font-weight="bold" text-anchor="middle" fill="#000">CD38</text>
<path d="M327.58 626.50C327.87 624.79 328.84 620.87 329.31 616.26C329.78 611.65 330.07 604.30 330.40 598.84C330.73 593.38 331.03 586.72 331.29 583.48C331.55 580.23 331.67 579.38 331.97 579.38C332.26 579.38 332.70 580.23 333.06 583.48C333.43 586.72 333.80 593.38 334.16 598.84C334.53 604.30 334.82 611.65 335.26 616.26C335.69 620.87 336.52 624.79 336.77 626.50Z" fill="#686868" stroke="#555" stroke-width="0.5"/>
<path d="M305.66 626.50C307.12 626.39 312.05 626.12 314.43 625.83C316.80 625.54 318.45 625.50 319.91 624.76C321.37 624.02 322.10 622.80 323.20 621.38C324.30 619.96 325.57 618.95 326.49 616.26C327.40 613.57 328.13 609.26 328.68 605.24C329.23 601.23 329.41 595.81 329.78 592.18C330.14 588.55 330.51 585.27 330.87 583.48C331.24 581.68 331.60 580.66 331.97 581.43C332.33 582.19 332.63 585.95 333.06 588.09C333.50 590.22 334.03 590.65 334.58 594.23C335.13 597.82 335.77 605.24 336.35 609.60C336.94 613.95 337.53 617.65 338.08 620.35C338.62 623.06 339.20 624.81 339.64 625.83C340.09 626.86 340.56 626.39 340.74 626.50" fill="none" stroke="#0a0a0a" stroke-width="0.95" stroke-linejoin="round"/>
<rect x="299.5" y="574.5" width="52.2" height="52" fill="none" stroke="#222" stroke-width="1.05"/>
<path d="M299.5 582.5h1.5M299.5 590.5h1.5M299.5 598.5h1.5M299.5 606.5h1.5M299.5 614.5h1.5M299.5 622.5h1.5M303.85 626.5v-1.3M308.2 626.5v-1.3M312.55 626.5v-1.3M316.9 626.5v-1.3M321.25 626.5v-1.3M325.6 626.5v-1.3M329.95 626.5v-1.3M334.3 626.5v-1.3M338.65 626.5v-1.3M343 626.5v-1.3M347.35 626.5v-1.3" stroke="#555" stroke-width="0.6"/>
<path d="M327.95 682.50C328.13 680.79 328.68 676.87 329.05 672.26C329.41 667.65 329.78 660.30 330.14 654.84C330.50 649.38 330.83 642.72 331.19 639.48C331.54 636.23 331.92 635.38 332.28 635.38C332.65 635.38 333.02 636.23 333.38 639.48C333.73 642.72 334.07 649.38 334.42 654.84C334.78 660.30 335.15 667.65 335.52 672.26C335.88 676.87 336.43 680.79 336.61 682.50Z" fill="#686868" stroke="#555" stroke-width="0.5"/>
<path d="M312.86 682.50C313.94 682.39 317.54 682.19 319.34 681.83C321.14 681.48 322.41 681.26 323.67 680.35C324.93 679.44 326.01 678.47 326.90 676.35C327.80 674.24 328.51 671.62 329.05 667.65C329.58 663.68 329.78 657.23 330.14 652.54C330.50 647.84 330.83 642.16 331.19 639.48C331.54 636.79 331.92 636.06 332.28 636.40C332.65 636.74 332.94 638.83 333.38 641.52C333.81 644.21 334.35 648.18 334.89 652.54C335.43 656.89 336.04 663.30 336.61 667.65C337.19 671.99 337.80 676.13 338.34 678.61C338.88 681.08 339.60 681.85 339.85 682.50" fill="none" stroke="#0a0a0a" stroke-width="0.95" stroke-linejoin="round"/>
<rect x="299.5" y="630.5" width="52.2" height="52" fill="none" stroke="#222" stroke-width="1.05"/>
<path d="M299.5 638.5h1.5M299.5 646.5h1.5M299.5 654.5h1.5M299.5 662.5h1.5M299.5 670.5h1.5M299.5 678.5h1.5M303.85 682.5v-1.3M308.2 682.5v-1.3M312.55 682.5v-1.3M316.9 682.5v-1.3M321.25 682.5v-1.3M325.6 682.5v-1.3M329.95 682.5v-1.3M334.3 682.5v-1.3M338.65 682.5v-1.3M343 682.5v-1.3M347.35 682.5v-1.3" stroke="#555" stroke-width="0.6"/>
<path d="M326.90 739.00C327.16 737.38 327.99 733.45 328.42 729.27C328.85 725.09 329.11 719.00 329.46 713.90C329.82 708.81 330.23 702.32 330.56 698.69C330.89 695.06 331.16 693.41 331.45 692.13C331.73 690.86 331.99 690.69 332.28 691.06C332.57 691.43 332.88 691.98 333.17 694.34C333.46 696.69 333.68 700.47 334.00 705.19C334.33 709.92 334.74 717.75 335.10 722.66C335.46 727.57 335.79 731.92 336.14 734.65C336.50 737.37 337.06 738.27 337.24 739.00Z" fill="#686868" stroke="#555" stroke-width="0.5"/>
<path d="M312.86 739.00C313.77 738.82 316.86 738.47 318.29 737.92C319.73 737.38 320.41 736.64 321.48 735.72C322.55 734.81 323.81 733.90 324.71 732.44C325.62 730.99 326.29 729.74 326.90 727.01C327.52 724.29 327.95 720.83 328.42 716.10C328.89 711.38 329.37 702.69 329.72 698.69C330.08 694.69 330.27 693.05 330.56 692.13C330.85 691.22 331.16 693.39 331.45 693.21C331.73 693.03 331.96 690.87 332.28 691.06C332.60 691.25 333.02 691.61 333.38 694.34C333.73 697.06 334.07 702.32 334.42 707.40C334.78 712.48 335.15 720.09 335.52 724.81C335.88 729.53 336.26 733.36 336.61 735.72C336.97 738.09 337.48 738.45 337.66 739.00" fill="none" stroke="#0a0a0a" stroke-width="0.95" stroke-linejoin="round"/>
<rect x="299.5" y="687" width="52.2" height="52" fill="none" stroke="#222" stroke-width="1.05"/>
<path d="M299.5 695h1.5M299.5 703h1.5M299.5 711h1.5M299.5 719h1.5M299.5 727h1.5M299.5 735h1.5M303.85 739v-1.3M308.2 739v-1.3M312.55 739v-1.3M316.9 739v-1.3M321.25 739v-1.3M325.6 739v-1.3M329.95 739v-1.3M334.3 739v-1.3M338.65 739v-1.3M343 739v-1.3M347.35 739v-1.3" stroke="#555" stroke-width="0.6"/>
<text x="380.6" y="571.3" font-size="12.3" font-weight="bold" text-anchor="middle" fill="#000">CD43</text>
<path d="M357.11 626.50C357.36 624.79 358.16 621.63 358.62 616.26C359.08 610.88 359.42 600.04 359.88 594.23C360.34 588.43 360.96 583.90 361.39 581.43C361.83 578.95 362.05 579.04 362.49 579.38C362.92 579.72 363.53 580.23 364.00 583.48C364.47 586.72 364.84 593.38 365.31 598.84C365.78 604.30 366.32 611.65 366.82 616.26C367.32 620.87 368.04 624.79 368.28 626.50Z" fill="#686868" stroke="#555" stroke-width="0.5"/>
<path d="M356.64 626.50C356.97 624.79 358.08 621.63 358.62 616.26C359.16 610.88 359.42 600.04 359.88 594.23C360.34 588.43 360.96 583.90 361.39 581.43C361.83 578.95 362.05 579.04 362.49 579.38C362.92 579.72 363.53 580.62 364.00 583.48C364.47 586.33 364.91 592.18 365.31 596.54C365.70 600.89 365.92 606.70 366.35 609.60C366.78 612.49 367.25 612.79 367.86 613.90C368.48 615.01 369.40 615.52 370.06 616.26C370.71 616.99 371.24 618.13 371.78 618.30C372.32 618.48 372.80 617.28 373.29 617.28C373.79 617.28 374.29 618.30 374.75 618.30C375.21 618.30 375.59 616.94 376.06 617.28C376.53 617.62 376.96 619.29 377.57 620.35C378.18 621.42 378.82 622.77 379.71 623.68C380.61 624.60 382.04 625.36 382.95 625.83C383.85 626.30 384.78 626.39 385.14 626.50" fill="none" stroke="#0a0a0a" stroke-width="0.95" stroke-linejoin="round"/>
<rect x="354.5" y="574.5" width="52.2" height="52" fill="none" stroke="#222" stroke-width="1.05"/>
<path d="M354.5 582.5h1.5M354.5 590.5h1.5M354.5 598.5h1.5M354.5 606.5h1.5M354.5 614.5h1.5M354.5 622.5h1.5M358.85 626.5v-1.3M363.2 626.5v-1.3M367.55 626.5v-1.3M371.9 626.5v-1.3M376.25 626.5v-1.3M380.6 626.5v-1.3M384.95 626.5v-1.3M389.3 626.5v-1.3M393.65 626.5v-1.3M398 626.5v-1.3M402.35 626.5v-1.3" stroke="#555" stroke-width="0.6"/>
<path d="M356.64 682.50C356.93 680.40 357.82 674.89 358.36 669.90C358.90 664.91 359.41 657.61 359.88 652.54C360.35 647.47 360.79 642.33 361.18 639.48C361.57 636.62 361.87 635.38 362.23 635.38C362.58 635.38 362.97 636.62 363.32 639.48C363.68 642.33 364.01 647.84 364.37 652.54C364.72 657.23 365.11 663.30 365.46 667.65C365.82 671.99 366.15 676.13 366.51 678.61C366.86 681.08 367.42 681.85 367.60 682.50Z" fill="#686868" stroke="#555" stroke-width="0.5"/>
<path d="M356.22 682.50C356.58 680.40 357.75 674.89 358.36 669.90C358.97 664.91 359.41 657.61 359.88 652.54C360.35 647.47 360.79 642.33 361.18 639.48C361.57 636.62 361.80 635.04 362.23 635.38C362.65 635.72 363.23 639.05 363.74 641.52C364.24 644.00 364.79 648.01 365.25 650.23C365.71 652.45 366.11 653.73 366.51 654.84C366.90 655.95 367.24 657.06 367.60 656.89C367.97 656.72 368.34 653.99 368.70 653.82C369.06 653.65 369.32 656.08 369.74 655.87C370.17 655.65 370.75 653.82 371.26 652.54C371.76 651.26 372.31 649.08 372.77 648.18C373.23 647.29 373.63 646.82 374.02 647.16C374.41 647.50 374.75 648.27 375.12 650.23C375.48 652.19 375.86 655.66 376.22 658.94C376.57 662.22 376.83 667.17 377.26 669.90C377.69 672.63 378.16 674.08 378.77 675.33C379.38 676.58 380.20 676.65 380.91 677.38C381.63 678.10 382.34 678.94 383.05 679.68C383.77 680.43 384.65 681.36 385.19 681.83C385.73 682.30 386.11 682.39 386.29 682.50" fill="none" stroke="#0a0a0a" stroke-width="0.95" stroke-linejoin="round"/>
<rect x="354.5" y="630.5" width="52.2" height="52" fill="none" stroke="#222" stroke-width="1.05"/>
<path d="M354.5 638.5h1.5M354.5 646.5h1.5M354.5 654.5h1.5M354.5 662.5h1.5M354.5 670.5h1.5M354.5 678.5h1.5M358.85 682.5v-1.3M363.2 682.5v-1.3M367.55 682.5v-1.3M371.9 682.5v-1.3M376.25 682.5v-1.3M380.6 682.5v-1.3M384.95 682.5v-1.3M389.3 682.5v-1.3M393.65 682.5v-1.3M398 682.5v-1.3M402.35 682.5v-1.3" stroke="#555" stroke-width="0.6"/>
<path d="M357.27 739.00C357.52 737.38 358.31 733.81 358.78 729.27C359.25 724.73 359.65 717.21 360.09 711.75C360.52 706.29 361.03 699.76 361.39 696.49C361.75 693.22 361.94 692.49 362.23 692.13C362.51 691.78 362.79 691.79 363.11 694.34C363.43 696.88 363.80 702.68 364.16 707.40C364.51 712.12 364.90 718.12 365.25 722.66C365.61 727.20 365.94 731.92 366.30 734.65C366.65 737.37 367.21 738.27 367.39 739.00Z" fill="#686868" stroke="#555" stroke-width="0.5"/>
<path d="M357.27 739.00C357.52 737.38 358.31 733.81 358.78 729.27C359.25 724.73 359.65 717.21 360.09 711.75C360.52 706.29 360.96 699.76 361.39 696.49C361.82 693.22 362.25 692.31 362.64 692.13C363.03 691.95 363.30 695.23 363.74 695.41C364.17 695.59 364.79 693.39 365.25 693.21C365.71 693.03 366.15 693.62 366.51 694.34C366.86 695.05 367.03 696.79 367.39 697.51C367.76 698.24 368.31 697.77 368.70 698.69C369.09 699.61 369.39 701.59 369.74 703.04C370.10 704.49 370.48 704.85 370.84 707.40C371.20 709.94 371.53 715.40 371.88 718.31C372.24 721.21 372.54 723.18 372.98 724.81C373.41 726.44 373.99 727.00 374.49 728.09C375.00 729.18 375.55 730.10 376.01 731.37C376.47 732.64 376.80 734.45 377.26 735.72C377.72 736.99 378.52 738.45 378.77 739.00" fill="none" stroke="#0a0a0a" stroke-width="0.95" stroke-linejoin="round"/>
<rect x="354.5" y="687" width="52.2" height="52" fill="none" stroke="#222" stroke-width="1.05"/>
<path d="M354.5 695h1.5M354.5 703h1.5M354.5 711h1.5M354.5 719h1.5M354.5 727h1.5M354.5 735h1.5M358.85 739v-1.3M363.2 739v-1.3M367.55 739v-1.3M371.9 739v-1.3M376.25 739v-1.3M380.6 739v-1.3M384.95 739v-1.3M389.3 739v-1.3M393.65 739v-1.3M398 739v-1.3M402.35 739v-1.3" stroke="#555" stroke-width="0.6"/>
<text x="436.5" y="571.3" font-size="12.3" font-weight="bold" text-anchor="middle" fill="#000">GL7</text>
<path d="M412.59 626.50C412.89 624.02 413.89 617.02 414.37 611.65C414.85 606.27 415.10 599.27 415.46 594.23C415.83 589.19 416.19 584.12 416.56 581.43C416.93 578.74 417.29 578.10 417.66 578.10C418.02 578.10 418.39 578.74 418.75 581.43C419.12 584.12 419.48 589.19 419.85 594.23C420.21 599.27 420.58 606.92 420.94 611.65C421.31 616.38 421.68 620.13 422.04 622.61C422.41 625.08 422.95 625.85 423.14 626.50Z" fill="#686868" stroke="#555" stroke-width="0.5"/>
<path d="M412.17 626.50C412.54 624.02 413.82 617.02 414.37 611.65C414.92 606.27 415.10 599.27 415.46 594.23C415.83 589.19 416.19 584.12 416.56 581.43C416.93 578.74 417.22 577.76 417.66 578.10C418.09 578.44 418.70 581.13 419.17 583.48C419.64 585.82 420.11 589.28 420.47 592.18C420.84 595.09 421.07 597.99 421.36 600.89C421.66 603.79 421.88 607.04 422.25 609.60C422.61 612.16 423.04 614.63 423.55 616.26C424.07 617.88 424.49 618.65 425.33 619.33C426.17 620.01 427.52 620.01 428.62 620.35C429.71 620.70 430.81 620.93 431.91 621.38C433.00 621.82 434.10 622.45 435.19 623.02C436.29 623.58 437.40 624.25 438.48 624.76C439.57 625.27 440.81 625.80 441.72 626.09C442.63 626.38 443.59 626.43 443.96 626.50" fill="none" stroke="#0a0a0a" stroke-width="0.95" stroke-linejoin="round"/>
<rect x="410.4" y="574.5" width="52.2" height="52" fill="none" stroke="#222" stroke-width="1.05"/>
<path d="M410.4 582.5h1.5M410.4 590.5h1.5M410.4 598.5h1.5M410.4 606.5h1.5M410.4 614.5h1.5M410.4 622.5h1.5M414.75 626.5v-1.3M419.1 626.5v-1.3M423.45 626.5v-1.3M427.8 626.5v-1.3M432.15 626.5v-1.3M436.5 626.5v-1.3M440.85 626.5v-1.3M445.2 626.5v-1.3M449.55 626.5v-1.3M453.9 626.5v-1.3M458.25 626.5v-1.3" stroke="#555" stroke-width="0.6"/>
<path d="M411.50 682.50C411.67 680.79 412.11 676.52 412.54 672.26C412.97 667.99 413.51 661.59 414.05 656.89C414.59 652.19 415.20 647.33 415.78 644.09C416.35 640.84 416.96 638.88 417.50 637.43C418.04 635.98 418.47 635.21 419.01 635.38C419.55 635.55 420.20 636.32 420.74 638.45C421.27 640.58 421.74 644.38 422.25 648.18C422.75 651.98 423.22 657.23 423.76 661.24C424.30 665.26 424.83 669.18 425.49 672.26C426.14 675.33 426.96 677.98 427.68 679.68C428.40 681.39 429.46 682.03 429.82 682.50Z" fill="#686868" stroke="#555" stroke-width="0.5"/>
<path d="M411.50 682.50C411.85 680.79 412.92 676.52 413.64 672.26C414.35 667.99 415.13 661.24 415.78 656.89C416.42 652.54 416.96 649.38 417.50 646.13C418.04 642.89 418.47 639.22 419.01 637.43C419.55 635.63 420.20 635.21 420.74 635.38C421.27 635.55 421.81 637.43 422.25 638.45C422.68 639.48 422.98 639.90 423.35 641.52C423.71 643.15 424.01 645.62 424.44 648.18C424.88 650.74 425.49 654.71 425.96 656.89C426.42 659.07 426.75 660.30 427.21 661.24C427.67 662.18 428.22 662.52 428.72 662.52C429.23 662.52 429.70 661.07 430.24 661.24C430.78 661.41 431.38 662.82 431.96 663.55C432.53 664.27 433.14 664.74 433.68 665.60C434.22 666.45 434.69 667.56 435.19 668.67C435.70 669.78 436.24 671.15 436.71 672.26C437.18 673.37 437.54 673.91 438.01 675.33C438.48 676.75 439.09 679.56 439.53 680.76C439.96 681.95 440.44 682.21 440.62 682.50" fill="none" stroke="#0a0a0a" stroke-width="0.95" stroke-linejoin="round"/>
<rect x="410.4" y="630.5" width="52.2" height="52" fill="none" stroke="#222" stroke-width="1.05"/>
<path d="M410.4 638.5h1.5M410.4 646.5h1.5M410.4 654.5h1.5M410.4 662.5h1.5M410.4 670.5h1.5M410.4 678.5h1.5M414.75 682.5v-1.3M419.1 682.5v-1.3M423.45 682.5v-1.3M427.8 682.5v-1.3M432.15 682.5v-1.3M436.5 682.5v-1.3M440.85 682.5v-1.3M445.2 682.5v-1.3M449.55 682.5v-1.3M453.9 682.5v-1.3M458.25 682.5v-1.3" stroke="#555" stroke-width="0.6"/>
<path d="M412.54 739.00C412.83 737.38 413.72 733.81 414.26 729.27C414.80 724.73 415.34 716.85 415.78 711.75C416.21 706.65 416.51 701.96 416.87 698.69C417.24 695.42 417.61 692.86 417.97 692.13C418.33 691.41 418.66 691.79 419.01 694.34C419.37 696.88 419.74 702.68 420.11 707.40C420.47 712.12 420.81 718.12 421.21 722.66C421.60 727.20 422.03 731.92 422.46 734.65C422.88 737.37 423.55 738.27 423.76 739.00Z" fill="#686868" stroke="#555" stroke-width="0.5"/>
<path d="M412.12 739.00C412.48 737.38 413.65 733.81 414.26 729.27C414.87 724.73 415.34 716.85 415.78 711.75C416.21 706.65 416.51 701.96 416.87 698.69C417.24 695.42 417.61 692.86 417.97 692.13C418.33 691.41 418.66 692.16 419.01 694.34C419.37 696.51 419.74 701.93 420.11 705.19C420.47 708.46 420.85 711.36 421.21 713.90C421.56 716.45 421.82 718.64 422.25 720.46C422.68 722.28 423.22 723.54 423.76 724.81C424.30 726.08 424.83 727.18 425.49 728.09C426.14 729.00 426.96 729.75 427.68 730.29C428.40 730.84 429.11 731.19 429.82 731.37C430.53 731.55 431.31 731.19 431.96 731.37C432.60 731.55 432.96 731.90 433.68 732.44C434.40 732.99 435.50 733.92 436.29 734.65C437.08 735.37 437.71 736.18 438.43 736.80C439.15 737.41 439.90 737.97 440.62 738.33C441.35 738.70 442.41 738.89 442.76 739.00" fill="none" stroke="#0a0a0a" stroke-width="0.95" stroke-linejoin="round"/>
<rect x="410.4" y="687" width="52.2" height="52" fill="none" stroke="#222" stroke-width="1.05"/>
<path d="M410.4 695h1.5M410.4 703h1.5M410.4 711h1.5M410.4 719h1.5M410.4 727h1.5M410.4 735h1.5M414.75 739v-1.3M419.1 739v-1.3M423.45 739v-1.3M427.8 739v-1.3M432.15 739v-1.3M436.5 739v-1.3M440.85 739v-1.3M445.2 739v-1.3M449.55 739v-1.3M453.9 739v-1.3M458.25 739v-1.3" stroke="#555" stroke-width="0.6"/>
<text x="491.4" y="571.3" font-size="12.3" font-weight="bold" text-anchor="middle" fill="#000">B220</text>
<path d="M490.51 626.50C490.76 624.02 491.59 617.02 492.03 611.65C492.46 606.27 492.76 599.27 493.12 594.23C493.49 589.19 493.90 583.90 494.22 581.43C494.54 578.95 494.70 578.69 495.05 579.38C495.41 580.06 495.96 581.94 496.36 585.52C496.76 589.11 497.10 595.77 497.46 600.89C497.81 606.01 498.11 612.28 498.50 616.26C498.89 620.23 499.44 623.05 499.80 624.76C500.17 626.47 500.54 626.21 500.69 626.50Z" fill="#686868" stroke="#555" stroke-width="0.5"/>
<path d="M472.19 626.50C473.27 626.39 476.86 626.12 478.66 625.83C480.46 625.54 481.73 625.30 483.00 624.76C484.26 624.22 485.34 623.68 486.23 622.61C487.13 621.53 487.76 620.47 488.37 618.30C488.98 616.14 489.42 612.84 489.89 609.60C490.36 606.35 490.79 602.09 491.19 598.84C491.59 595.60 491.93 592.69 492.29 590.13C492.64 587.57 492.94 585.27 493.33 583.48C493.72 581.68 494.20 579.72 494.64 579.38C495.07 579.04 495.55 578.95 495.94 581.43C496.33 583.90 496.63 589.54 496.99 594.23C497.34 598.93 497.72 605.24 498.08 609.60C498.45 613.95 498.74 617.54 499.18 620.35C499.61 623.17 500.44 625.48 500.69 626.50" fill="none" stroke="#0a0a0a" stroke-width="0.95" stroke-linejoin="round"/>
<rect x="465.3" y="574.5" width="52.2" height="52" fill="none" stroke="#222" stroke-width="1.05"/>
<path d="M465.3 582.5h1.5M465.3 590.5h1.5M465.3 598.5h1.5M465.3 606.5h1.5M465.3 614.5h1.5M465.3 622.5h1.5M469.65 626.5v-1.3M474 626.5v-1.3M478.35 626.5v-1.3M482.7 626.5v-1.3M487.05 626.5v-1.3M491.4 626.5v-1.3M495.75 626.5v-1.3M500.1 626.5v-1.3M504.45 626.5v-1.3M508.8 626.5v-1.3M513.15 626.5v-1.3" stroke="#555" stroke-width="0.6"/>
<path d="M490.51 682.50C490.70 680.79 491.24 676.87 491.61 672.26C491.97 667.65 492.35 660.30 492.71 654.84C493.06 649.38 493.39 642.55 493.75 639.48C494.11 636.40 494.48 636.40 494.85 636.40C495.21 636.40 495.58 636.79 495.94 639.48C496.30 642.16 496.63 647.47 496.99 652.54C497.34 657.61 497.72 665.38 498.08 669.90C498.45 674.42 498.82 677.58 499.18 679.68C499.53 681.78 500.05 682.03 500.22 682.50Z" fill="#686868" stroke="#555" stroke-width="0.5"/>
<path d="M465.72 682.50C466.08 682.21 466.83 681.23 467.91 680.76C468.99 680.29 470.75 680.04 472.19 679.68C473.63 679.32 475.26 679.16 476.52 678.61C477.78 678.05 478.68 676.99 479.76 676.35C480.84 675.72 482.10 675.33 483.00 674.82C483.89 674.30 484.42 674.30 485.14 673.28C485.85 672.26 486.62 670.29 487.28 668.67C487.93 667.05 488.51 665.85 489.05 663.55C489.59 661.24 490.09 657.74 490.51 654.84C490.94 651.94 491.24 648.69 491.61 646.13C491.97 643.57 492.27 641.10 492.71 639.48C493.14 637.85 493.75 636.74 494.22 636.40C494.69 636.06 495.13 635.46 495.52 637.43C495.92 639.39 496.21 643.83 496.57 648.18C496.92 652.54 497.31 658.85 497.66 663.55C498.02 668.24 498.35 673.31 498.71 676.35C499.06 679.40 499.47 680.81 499.80 681.83C500.13 682.86 500.54 682.39 500.69 682.50" fill="none" stroke="#0a0a0a" stroke-width="0.95" stroke-linejoin="round"/>
<rect x="465.3" y="630.5" width="52.2" height="52" fill="none" stroke="#222" stroke-width="1.05"/>
<path d="M465.3 638.5h1.5M465.3 646.5h1.5M465.3 654.5h1.5M465.3 662.5h1.5M465.3 670.5h1.5M465.3 678.5h1.5M469.65 682.5v-1.3M474 682.5v-1.3M478.35 682.5v-1.3M482.7 682.5v-1.3M487.05 682.5v-1.3M491.4 682.5v-1.3M495.75 682.5v-1.3M500.1 682.5v-1.3M504.45 682.5v-1.3M508.8 682.5v-1.3M513.15 682.5v-1.3" stroke="#555" stroke-width="0.6"/>
<path d="M491.19 739.00C491.37 737.38 491.93 733.45 492.29 729.27C492.64 725.09 492.97 719.00 493.33 713.90C493.69 708.81 494.11 702.14 494.43 698.69C494.75 695.24 494.98 693.58 495.26 693.21C495.55 692.84 495.82 693.76 496.15 696.49C496.48 699.22 496.89 704.88 497.25 709.60C497.60 714.32 497.93 720.46 498.29 724.81C498.65 729.17 498.99 733.36 499.39 735.72C499.79 738.09 500.47 738.45 500.69 739.00Z" fill="#686868" stroke="#555" stroke-width="0.5"/>
<path d="M472.19 739.00C472.91 738.89 475.26 738.70 476.52 738.33C477.78 737.97 478.86 737.23 479.76 736.80C480.66 736.36 481.18 735.82 481.90 735.72C482.62 735.62 483.37 736.36 484.09 736.18C484.81 736.00 485.62 735.27 486.23 734.65C486.84 734.02 487.28 733.72 487.75 732.44C488.22 731.17 488.59 729.74 489.05 727.01C489.51 724.29 490.09 719.37 490.51 716.10C490.94 712.84 491.24 709.94 491.61 707.40C491.97 704.85 492.35 702.84 492.71 700.84C493.06 698.84 493.39 696.86 493.75 695.41C494.11 693.96 494.48 692.13 494.85 692.13C495.21 692.13 495.58 692.87 495.94 695.41C496.30 697.96 496.63 702.86 496.99 707.40C497.34 711.94 497.72 718.12 498.08 722.66C498.45 727.20 498.74 731.92 499.18 734.65C499.61 737.37 500.44 738.27 500.69 739.00" fill="none" stroke="#0a0a0a" stroke-width="0.95" stroke-linejoin="round"/>
<rect x="465.3" y="687" width="52.2" height="52" fill="none" stroke="#222" stroke-width="1.05"/>
<path d="M465.3 695h1.5M465.3 703h1.5M465.3 711h1.5M465.3 719h1.5M465.3 727h1.5M465.3 735h1.5M469.65 739v-1.3M474 739v-1.3M478.35 739v-1.3M482.7 739v-1.3M487.05 739v-1.3M491.4 739v-1.3M495.75 739v-1.3M500.1 739v-1.3M504.45 739v-1.3M508.8 739v-1.3M513.15 739v-1.3" stroke="#555" stroke-width="0.6"/>
<text transform="translate(16.8 597.5) rotate(-90)" font-size="12" font-weight="bold" text-anchor="middle" fill="#000">BL/6</text>
<text transform="translate(16.8 657.7) rotate(-90)" font-size="12" font-weight="bold" text-anchor="middle" fill="#000">Tiger</text>
<text transform="translate(16.8 714.4) rotate(-90)" font-size="12" font-weight="bold" text-anchor="middle" fill="#000">10BiT</text>
<text x="101.9" y="584.2" font-size="8.7" font-weight="bold" fill="#000">IL-10<tspan dy="-3.2" dx="0.5" font-size="7">+</tspan></text>
<text x="101.9" y="601.9" font-size="8.7" font-weight="bold" fill="#000">IL-10<tspan dy="-3.2" dx="0.5" font-size="7">-</tspan></text>
<path d="M102.7 586.1L96.2 590.9" stroke="#111" stroke-width="0.8" fill="none"/>
<path d="M103.6 603.4L93.7 612" stroke="#111" stroke-width="0.8" fill="none"/>
<text x="101.4" y="641.7" font-size="8.7" font-weight="bold" fill="#000">GFP<tspan dy="-3.2" dx="0.5" font-size="7">+</tspan></text>
<text x="103.6" y="660.7" font-size="8.7" font-weight="bold" fill="#000">GFP<tspan dy="-3.2" dx="0.5" font-size="7">-</tspan></text>
<path d="M101 642.1L94.5 646.4" stroke="#111" stroke-width="0.8" fill="none"/>
<path d="M103.6 661.1L95.8 666.8" stroke="#111" stroke-width="0.8" fill="none"/>
<text x="104.9" y="698.2" font-size="8.7" font-weight="bold" fill="#000">1.1<tspan dy="-3.2" dx="0.5" font-size="7">+</tspan></text>
<text x="106.6" y="713" font-size="8.7" font-weight="bold" fill="#000">1.1<tspan dy="-3.2" dx="0.5" font-size="7">-</tspan></text>
<path d="M103.6 698.2L97.5 702.6" stroke="#111" stroke-width="0.8" fill="none"/>
<path d="M104.9 714.2L96.2 721.2" stroke="#111" stroke-width="0.8" fill="none"/>
</svg></body></html>
